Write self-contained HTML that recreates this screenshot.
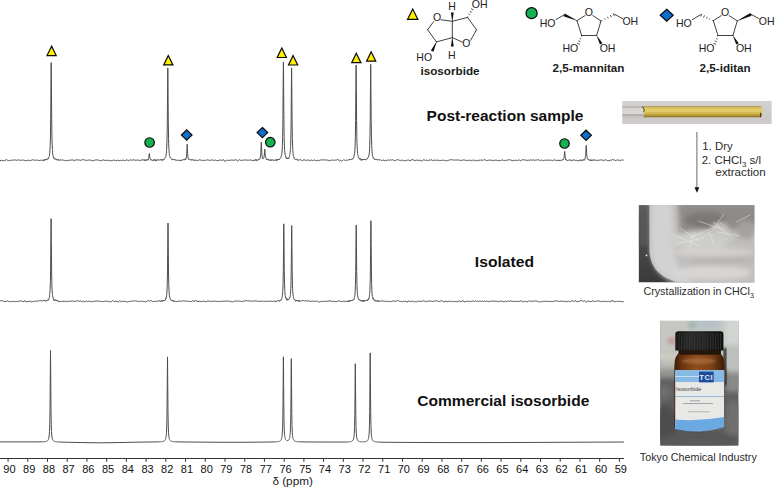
<!DOCTYPE html>
<html><head><meta charset="utf-8">
<style>
html,body{margin:0;padding:0;background:#fff;}
body{width:775px;height:488px;overflow:hidden;position:relative;font-family:"Liberation Sans",sans-serif;}
svg{position:absolute;left:0;top:0;}
text{font-family:"Liberation Sans",sans-serif;}
</style></head><body>
<svg width="775" height="488" viewBox="0 0 775 488">
<g fill="none" stroke="#4d4d4d" stroke-width="1" stroke-linejoin="round">
<path d="M0,159.82 L0.7,160.93 L1.4,160.37 L2.1,160.47 L2.8,160.49 L3.5,160.53 L4.2,160.96 L4.9,160.56 L5.6,160.35 L6.3,159.29 L7,160.02 L7.7,160.40 L8.4,160.45 L9.1,160.59 L9.8,160.69 L10.5,160.45 L11.2,160.18 L11.9,160.27 L12.6,160.01 L13.3,160.28 L14,160.19 L14.7,159.76 L15.4,160.04 L16.1,160.42 L16.8,160.34 L17.5,159.99 L18.2,159.65 L18.9,160.25 L19.6,160.31 L20.3,160.04 L21,160.51 L21.7,160.37 L22.4,159.98 L23.1,160.03 L23.8,160.16 L24.5,160.25 L25.2,161.05 L25.9,160.21 L26.6,160.62 L27.3,160.84 L28,160.24 L28.7,160.05 L29.4,160.43 L30.1,160.63 L30.8,160.32 L31.5,160.17 L32.2,159.76 L32.9,159.90 L33.6,160.06 L34.3,159.89 L35,160.28 L35.7,160.49 L36.4,160.06 L37.1,160.00 L37.8,160.28 L38.5,160.44 L39.2,160.33 L39.9,160.89 L40.6,160.06 L41.3,160.03 L42,160.57 L42.7,160.22 L43.2,160.28 L43.4,159.98 L43.45,160.66 L43.7,160.37 L43.95,159.73 L44.1,159.69 L44.2,160.58 L44.45,160.20 L44.7,159.86 L44.8,159.94 L44.95,159.48 L45.2,160.06 L45.45,159.82 L45.5,159.98 L45.7,159.36 L45.95,159.61 L46.2,159.85 L46.45,159.99 L46.7,158.99 L46.9,158.97 L46.95,158.99 L47.2,158.80 L47.45,158.94 L47.6,159.21 L47.7,159.26 L47.95,158.90 L48.2,158.14 L48.3,158.69 L48.45,158.37 L48.7,157.74 L48.95,156.91 L49,156.74 L49.2,156.63 L49.45,155.60 L49.7,153.22 L49.95,149.93 L50.2,145.28 L50.4,139.05 L50.45,136.99 L50.7,119.74 L50.95,88.01 L51.1,67.46 L51.2,62.58 L51.45,88.03 L51.7,119.79 L51.8,127.92 L51.95,136.65 L52.2,144.70 L52.45,149.62 L52.5,150.61 L52.7,153.74 L52.95,155.25 L53.2,156.34 L53.45,157.03 L53.7,158.21 L53.9,157.70 L53.95,157.74 L54.2,158.82 L54.45,159.14 L54.6,159.14 L54.7,158.90 L54.95,158.74 L55.2,158.55 L55.3,159.15 L55.45,159.11 L55.7,159.23 L55.95,158.92 L56,159.11 L56.2,159.20 L56.45,159.93 L56.7,159.92 L56.95,159.95 L57.2,159.36 L57.4,159.56 L57.45,159.94 L57.7,160.02 L57.95,159.84 L58.1,160.19 L58.2,160.25 L58.45,159.71 L58.7,159.20 L58.8,159.95 L58.95,160.28 L59.2,160.52 L59.5,160.51 L60.2,159.95 L60.9,159.81 L61.6,160.05 L62.3,160.04 L63,160.10 L63.7,160.24 L64.4,160.70 L65.1,160.45 L65.8,160.26 L66.5,160.49 L67.2,160.49 L67.9,160.55 L68.6,160.34 L69.3,160.03 L70,160.33 L70.7,160.27 L71.4,159.96 L72.1,159.88 L72.8,159.82 L73.5,160.75 L74.2,160.17 L74.9,160.35 L75.6,160.20 L76.3,159.92 L77,159.80 L77.7,159.86 L78.4,160.05 L79.1,159.78 L79.8,160.26 L80.5,160.29 L81.2,160.07 L81.9,160.25 L82.6,159.57 L83.3,159.67 L84,159.53 L84.7,160.17 L85.4,160.39 L86.1,160.20 L86.8,160.08 L87.5,160.39 L88.2,160.20 L88.9,160.15 L89.6,159.82 L90.3,160.31 L91,160.04 L91.7,160.48 L92.4,160.68 L93.1,160.65 L93.8,160.70 L94.5,160.25 L95.2,159.94 L95.9,160.12 L96.6,159.97 L97.3,159.71 L98,160.08 L98.7,160.23 L99.4,160.47 L100.1,160.76 L100.8,160.27 L101.5,160.74 L102.2,160.20 L102.9,160.17 L103.6,159.94 L104.3,160.29 L105,160.53 L105.7,160.27 L106.4,160.45 L107.1,160.38 L107.8,160.30 L108.5,160.34 L109.2,160.41 L109.9,160.57 L110.6,160.55 L111.3,160.98 L112,160.56 L112.7,160.60 L113.4,159.93 L114.1,159.94 L114.8,160.81 L115.5,160.38 L116.2,160.39 L116.9,160.59 L117.6,160.22 L118.3,160.51 L119,160.89 L119.7,160.50 L120.4,160.34 L121.1,160.34 L121.8,160.62 L122.5,160.12 L123.2,160.09 L123.9,160.64 L124.6,160.57 L125.3,160.39 L126,160.35 L126.7,159.76 L127.4,160.17 L128.1,160.64 L128.8,160.60 L129.5,160.20 L130.2,159.57 L130.9,160.17 L131.6,160.21 L132.3,160.11 L133,160.10 L133.7,159.59 L134.4,160.24 L135.1,160.06 L135.8,160.13 L136.5,160.14 L137.2,160.48 L137.9,159.80 L138.6,160.18 L139.3,160.32 L140,160.60 L140.7,160.51 L141.3,160.06 L141.4,159.85 L141.55,159.86 L141.8,159.77 L142.05,159.94 L142.1,160.13 L142.3,159.94 L142.55,160.00 L142.8,160.18 L143.05,159.93 L143.3,159.76 L143.5,160.09 L143.55,160.28 L143.8,159.89 L144.05,159.59 L144.2,160.16 L144.3,160.27 L144.55,160.17 L144.8,159.95 L144.9,160.67 L145.05,160.12 L145.3,159.84 L145.55,160.25 L145.6,159.72 L145.8,159.92 L146.05,160.26 L146.3,160.19 L146.55,160.60 L146.8,160.21 L147,159.54 L147.05,160.04 L147.3,159.43 L147.55,159.69 L147.7,159.47 L147.8,159.79 L148.05,160.25 L148.3,159.47 L148.4,159.00 L148.55,158.95 L148.8,157.71 L149.05,154.88 L149.1,154.59 L149.3,153.57 L149.55,155.13 L149.8,157.03 L150.05,158.53 L150.3,158.78 L150.5,158.90 L150.55,159.46 L150.8,160.15 L151.05,160.33 L151.2,159.93 L151.3,159.63 L151.55,159.80 L151.8,159.87 L151.9,160.13 L152.05,160.03 L152.3,160.24 L152.55,160.32 L152.6,160.64 L152.8,160.73 L153.05,160.46 L153.3,160.58 L153.55,160.47 L153.8,160.01 L154,159.94 L154.05,159.18 L154.3,159.71 L154.55,160.24 L154.7,159.93 L154.8,160.04 L155.05,160.27 L155.3,159.90 L155.4,160.53 L155.55,161.11 L155.8,160.15 L156.05,160.19 L156.1,159.76 L156.3,160.33 L156.55,160.45 L156.8,159.80 L157.05,160.35 L157.3,160.04 L157.5,159.64 L158.2,159.97 L158.9,160.08 L159.6,159.95 L159.8,159.81 L160.05,160.17 L160.3,159.82 L160.55,159.59 L160.8,159.20 L161,159.94 L161.05,160.19 L161.3,159.76 L161.55,159.92 L161.7,159.77 L161.8,159.69 L162.05,159.46 L162.3,159.88 L162.4,159.97 L162.55,160.57 L162.8,159.99 L163.05,159.19 L163.1,159.71 L163.3,159.84 L163.55,159.78 L163.8,159.16 L164.05,159.13 L164.3,159.29 L164.5,158.67 L164.55,158.59 L164.8,158.30 L165.05,158.21 L165.2,157.40 L165.3,157.51 L165.55,157.22 L165.8,156.57 L165.9,156.04 L166.05,155.02 L166.3,153.53 L166.55,150.56 L166.6,149.86 L166.8,145.93 L167.05,137.91 L167.3,122.19 L167.55,92.72 L167.8,67.97 L168,84.76 L168.05,91.99 L168.3,121.94 L168.55,138.38 L168.7,143.99 L168.8,146.67 L169.05,150.54 L169.3,153.46 L169.4,154.57 L169.55,155.72 L169.8,156.42 L170.05,156.70 L170.1,157.11 L170.3,157.85 L170.55,157.68 L170.8,157.89 L171.05,158.31 L171.3,158.58 L171.5,158.65 L171.55,158.84 L171.8,159.05 L172.05,159.48 L172.2,159.01 L172.3,159.17 L172.55,159.05 L172.8,160.09 L172.9,159.51 L173.05,159.36 L173.3,159.75 L173.55,159.62 L173.6,159.49 L173.8,159.63 L174.05,160.00 L174.3,159.90 L174.55,159.52 L174.8,159.47 L175,159.84 L175.05,159.92 L175.3,159.85 L175.55,159.73 L175.7,160.36 L175.8,160.50 L176.4,160.17 L177.1,160.46 L177.8,160.35 L178.5,160.09 L179.2,160.04 L179.45,160.38 L179.7,160.07 L179.9,160.60 L179.95,160.18 L180.2,160.68 L180.45,160.59 L180.6,160.04 L180.7,160.27 L180.95,160.43 L181.2,160.29 L181.3,160.01 L181.45,160.11 L181.7,160.06 L181.95,159.83 L182,160.29 L182.2,160.33 L182.45,160.21 L182.7,159.68 L182.95,159.59 L183.2,159.58 L183.4,159.97 L183.45,160.02 L183.7,159.77 L183.95,159.98 L184.1,159.66 L184.2,159.69 L184.45,160.05 L184.7,159.88 L184.8,159.69 L184.95,158.99 L185.2,158.64 L185.45,159.23 L185.5,159.48 L185.7,159.78 L185.95,158.71 L186.2,157.91 L186.45,156.71 L186.7,153.56 L186.9,150.11 L186.95,148.60 L187.2,144.30 L187.45,148.76 L187.6,151.60 L187.7,153.34 L187.95,156.89 L188.2,158.35 L188.3,158.13 L188.45,158.68 L188.7,159.50 L188.95,159.57 L189,159.49 L189.2,159.58 L189.45,159.44 L189.7,159.52 L189.95,159.22 L190.2,159.35 L190.4,159.61 L190.45,159.52 L190.7,159.50 L190.95,159.83 L191.1,160.36 L191.2,159.90 L191.45,159.92 L191.7,159.60 L191.8,159.96 L191.95,159.95 L192.2,159.90 L192.45,159.60 L192.5,160.01 L192.7,160.23 L192.95,160.13 L193.2,160.30 L193.45,160.17 L193.7,160.17 L193.9,159.99 L193.95,159.61 L194.2,160.21 L194.45,160.25 L194.6,160.23 L194.7,160.10 L194.95,160.60 L195.2,160.53 L195.3,160.25 L196,160.07 L196.7,160.25 L197.4,160.47 L198.1,160.52 L198.8,160.05 L199.5,159.75 L200.2,160.05 L200.9,160.15 L201.6,160.17 L202.3,160.55 L203,160.45 L203.7,160.35 L204.4,160.20 L205.1,160.34 L205.8,160.58 L206.5,159.89 L207.2,159.68 L207.9,160.22 L208.6,160.15 L209.3,160.11 L210,160.11 L210.7,160.58 L211.4,159.90 L212.1,160.23 L212.8,159.90 L213.5,160.19 L214.2,160.40 L214.9,160.29 L215.6,160.06 L216.3,160.51 L217,160.49 L217.7,160.57 L218.4,160.76 L219.1,159.95 L219.8,160.01 L220.5,160.17 L221.2,159.98 L221.9,160.51 L222.6,160.25 L223.3,159.67 L224,160.00 L224.7,161.14 L225.4,161.55 L226.1,160.76 L226.8,160.05 L227.5,160.37 L228.2,160.34 L228.9,160.16 L229.6,160.50 L230.3,160.22 L231,159.98 L231.7,160.05 L232.4,160.16 L233.1,160.40 L233.8,160.18 L234.5,160.29 L235.2,159.72 L235.9,159.42 L236.6,160.48 L237.3,161.03 L238,160.53 L238.7,160.11 L239.4,159.84 L240.1,159.91 L240.8,160.49 L241.5,160.48 L242.2,159.99 L242.9,160.45 L243.6,160.01 L244.3,160.21 L245,159.98 L245.7,159.93 L246.4,159.91 L247.1,160.01 L247.8,160.48 L248.5,160.22 L249.2,160.19 L249.9,160.05 L250.6,159.84 L251.3,160.27 L252,160.51 L252.7,160.51 L253.3,160.30 L253.4,160.04 L253.55,160.32 L253.8,159.86 L254.05,160.03 L254.1,160.33 L254.3,160.60 L254.55,160.14 L254.8,160.05 L255.05,160.59 L255.3,159.78 L255.5,159.52 L255.55,159.89 L255.8,159.79 L256.05,159.24 L256.2,159.62 L256.3,160.31 L256.55,160.17 L256.8,160.13 L256.9,160.28 L257.05,160.75 L257.3,159.99 L257.55,160.13 L257.6,159.99 L257.8,159.93 L258.05,159.67 L258.3,159.95 L258.55,160.03 L258.8,159.50 L259,159.16 L259.05,159.50 L259.3,159.00 L259.55,159.07 L259.7,159.07 L259.8,158.48 L260.05,158.44 L260.3,157.25 L260.4,157.02 L260.55,155.86 L260.8,153.17 L261.05,147.23 L261.1,145.30 L261.3,142.15 L261.55,146.92 L261.8,152.77 L262.05,155.72 L262.3,157.75 L262.5,158.39 L262.55,158.23 L262.8,158.79 L263.05,158.93 L263.2,158.76 L263.3,158.73 L263.55,158.46 L263.8,157.48 L263.9,157.26 L264.05,156.69 L264.3,155.21 L264.55,151.92 L264.6,151.32 L264.8,149.12 L265.05,152.45 L265.3,155.66 L265.55,157.06 L265.8,157.75 L266,158.49 L266.05,159.11 L266.3,159.23 L266.55,159.64 L266.7,159.38 L266.8,159.55 L267.05,159.29 L267.3,158.87 L267.4,159.21 L267.55,159.05 L267.8,159.71 L268.05,159.94 L268.1,159.43 L268.3,159.37 L268.55,160.04 L268.8,160.11 L269.05,160.48 L269.3,160.13 L269.5,159.77 L269.55,160.04 L269.8,160.32 L270.05,160.51 L270.2,159.98 L270.3,159.74 L270.55,159.80 L270.8,160.02 L270.9,160.32 L271.05,159.59 L271.3,159.97 L271.55,160.06 L271.6,159.98 L271.8,160.69 L272.05,160.23 L272.3,160.07 L272.55,159.85 L272.8,159.56 L273,159.92 L273.7,160.58 L274.4,160.20 L275.1,159.90 L275.4,159.95 L275.65,160.42 L275.8,160.47 L275.9,159.81 L276.15,159.72 L276.4,159.94 L276.5,160.26 L276.65,159.57 L276.9,160.60 L277.15,159.92 L277.2,159.12 L277.4,159.60 L277.65,159.68 L277.9,159.88 L278.15,159.29 L278.4,159.79 L278.6,159.43 L278.65,159.42 L278.9,159.58 L279.15,159.10 L279.3,159.58 L279.4,159.40 L279.65,159.02 L279.9,158.86 L280,158.49 L280.15,158.23 L280.4,158.32 L280.65,158.12 L280.7,158.04 L280.9,157.53 L281.15,156.60 L281.4,155.95 L281.65,154.64 L281.9,153.00 L282.1,151.00 L282.15,149.96 L282.4,145.59 L282.65,136.53 L282.8,127.28 L282.9,119.57 L283.15,87.52 L283.4,62.08 L283.5,67.19 L283.6,80.27 L283.65,87.55 L283.85,114.34 L283.9,119.15 L284.1,133.39 L284.15,136.24 L284.2,138.48 L284.35,143.86 L284.4,145.34 L284.6,149.60 L284.65,150.58 L284.85,152.29 L284.9,152.21 L285.1,154.01 L285.15,154.56 L285.35,155.05 L285.4,155.77 L285.6,156.68 L285.65,157.00 L285.85,157.39 L285.9,157.09 L286.1,156.83 L286.15,157.50 L286.3,158.07 L286.35,158.02 L286.4,158.02 L286.6,158.52 L286.65,158.04 L286.85,157.88 L286.9,157.97 L287,158.08 L287.1,158.72 L287.15,158.79 L287.35,157.93 L287.4,157.98 L287.6,158.71 L287.65,158.34 L287.7,158.24 L287.85,158.09 L287.9,158.20 L288.1,158.33 L288.15,158.14 L288.35,158.02 L288.4,158.17 L288.6,158.67 L288.65,158.96 L288.85,158.18 L288.9,158.10 L289.1,157.22 L289.15,156.89 L289.35,156.61 L289.4,156.68 L289.6,155.89 L289.65,155.46 L289.8,155.22 L289.85,154.59 L289.9,154.30 L290.1,153.01 L290.15,152.39 L290.35,150.70 L290.4,149.75 L290.5,148.57 L290.6,146.59 L290.65,145.33 L290.85,138.10 L290.9,135.99 L291.1,122.22 L291.15,117.63 L291.2,111.58 L291.35,91.71 L291.4,85.04 L291.6,67.86 L291.85,91.97 L291.9,98.66 L292.1,122.09 L292.35,138.59 L292.6,145.99 L292.85,150.81 L293.1,153.82 L293.3,155.23 L293.35,155.69 L293.6,156.49 L293.85,157.29 L294,156.97 L294.1,157.42 L294.35,158.63 L294.6,159.01 L294.7,158.91 L294.85,159.30 L295.1,159.03 L295.35,159.10 L295.4,159.34 L295.6,159.36 L295.85,159.07 L296.1,158.80 L296.35,158.90 L296.6,159.38 L296.8,159.37 L296.85,159.75 L297.1,159.65 L297.35,159.94 L297.5,159.66 L297.6,160.16 L297.85,160.18 L298.1,159.86 L298.2,159.76 L298.35,160.31 L298.6,160.14 L298.85,159.89 L298.9,159.89 L299.1,160.17 L299.35,159.99 L299.6,159.95 L300.3,159.55 L301,159.87 L301.7,160.60 L302.4,160.88 L303.1,160.16 L303.8,159.74 L304.5,159.96 L305.2,159.90 L305.9,160.36 L306.6,160.59 L307.3,160.04 L308,160.07 L308.7,160.07 L309.4,160.58 L310.1,160.29 L310.8,160.35 L311.5,160.05 L312.2,160.39 L312.9,160.50 L313.6,160.37 L314.3,159.87 L315,160.19 L315.7,160.54 L316.4,160.68 L317.1,160.54 L317.8,159.97 L318.5,160.77 L319.2,160.59 L319.9,160.02 L320.6,159.84 L321.3,160.16 L322,159.96 L322.7,159.89 L323.4,159.88 L324.1,160.05 L324.8,159.71 L325.5,159.96 L326.2,159.82 L326.9,160.42 L327.6,160.10 L328.3,160.67 L329,160.76 L329.7,160.23 L330.4,160.43 L331.1,160.22 L331.8,160.43 L332.5,159.79 L333.2,160.19 L333.9,160.56 L334.6,160.18 L335.3,159.97 L336,160.36 L336.7,159.96 L337.4,159.46 L338.1,159.78 L338.8,160.17 L339.5,160.33 L340.2,160.14 L340.9,160.82 L341.6,161.27 L342.3,160.64 L343,160.41 L343.7,159.64 L344.4,160.02 L345.1,160.48 L345.8,160.48 L346.5,160.03 L347.2,160.29 L347.9,160.23 L348.1,160.03 L348.35,159.92 L348.6,159.88 L348.85,159.78 L349.1,159.35 L349.3,159.35 L349.35,160.09 L349.6,159.12 L349.85,159.49 L350,159.42 L350.1,159.88 L350.35,159.65 L350.6,159.57 L350.7,159.54 L350.85,159.29 L351.1,159.36 L351.35,159.76 L351.4,159.51 L351.6,159.12 L351.85,159.05 L352.1,159.25 L352.35,159.15 L352.6,159.00 L352.8,159.13 L352.85,159.02 L353.1,158.00 L353.35,158.05 L353.5,157.83 L353.6,157.73 L353.85,156.52 L354.1,155.56 L354.2,155.69 L354.35,154.92 L354.6,153.37 L354.85,149.99 L354.9,149.47 L355.1,146.06 L355.35,137.15 L355.6,120.66 L355.85,89.86 L356.1,65.08 L356.3,82.96 L356.35,90.20 L356.6,120.72 L356.85,137.53 L357,143.34 L357.1,145.36 L357.35,150.49 L357.6,153.49 L357.7,154.25 L357.85,154.75 L358.1,155.77 L358.35,156.75 L358.4,156.89 L358.6,157.98 L358.85,158.23 L359.1,158.48 L359.35,158.57 L359.6,158.76 L359.8,159.31 L359.85,158.15 L360.1,159.12 L360.35,159.08 L360.5,158.90 L360.6,158.94 L360.85,159.42 L361.1,160.39 L361.2,159.93 L361.35,159.37 L361.6,159.82 L361.85,160.10 L361.9,160.29 L362.1,159.32 L362.35,159.42 L362.6,159.88 L362.7,159.74 L362.85,159.75 L362.95,160.02 L363.1,159.79 L363.2,159.55 L363.3,159.37 L363.35,159.21 L363.45,159.59 L363.6,159.77 L363.7,159.60 L363.85,159.90 L363.95,160.00 L364,159.39 L364.1,159.67 L364.2,159.57 L364.45,159.48 L364.7,159.85 L364.95,159.40 L365.2,159.35 L365.4,159.47 L365.45,159.42 L365.7,159.79 L365.95,160.13 L366.1,159.63 L366.2,159.54 L366.45,158.97 L366.7,158.99 L366.8,159.19 L366.95,158.89 L367.2,158.28 L367.45,158.11 L367.5,158.31 L367.7,158.18 L367.95,158.05 L368.2,157.56 L368.45,156.78 L368.7,156.11 L368.9,155.23 L368.95,155.41 L369.2,153.94 L369.45,151.15 L369.6,148.17 L369.7,145.36 L369.95,136.93 L370.2,120.91 L370.3,110.47 L370.45,89.29 L370.7,64.30 L370.95,89.80 L371,96.52 L371.2,120.37 L371.45,136.89 L371.7,145.60 L371.95,150.18 L372.2,153.16 L372.4,155.01 L372.45,155.19 L372.7,156.35 L372.95,156.85 L373.1,157.74 L373.2,158.11 L373.45,157.86 L373.7,157.89 L373.8,157.90 L373.95,158.32 L374.2,159.33 L374.45,159.41 L374.5,159.30 L374.7,159.39 L374.95,160.00 L375.2,159.55 L375.45,159.48 L375.7,159.85 L375.9,159.57 L375.95,159.25 L376.2,159.53 L376.45,159.34 L376.6,159.35 L376.7,159.56 L376.95,159.70 L377.2,159.86 L377.3,159.53 L377.45,160.00 L377.7,160.11 L377.95,159.81 L378,160.09 L378.2,159.80 L378.45,159.61 L378.7,159.89 L379.4,159.94 L380.1,159.72 L380.8,159.90 L381.5,160.64 L382.2,160.56 L382.9,159.80 L383.6,160.09 L384.3,160.90 L385,160.75 L385.7,160.34 L386.4,160.48 L387.1,160.12 L387.8,160.12 L388.5,160.14 L389.2,160.52 L389.9,159.98 L390.6,159.63 L391.3,160.26 L392,159.81 L392.7,159.80 L393.4,159.98 L394.1,160.30 L394.8,160.68 L395.5,160.55 L396.2,160.00 L396.9,159.81 L397.6,159.74 L398.3,159.81 L399,159.94 L399.7,160.41 L400.4,160.65 L401.1,160.24 L401.8,160.08 L402.5,160.30 L403.2,160.77 L403.9,160.63 L404.6,160.75 L405.3,160.39 L406,160.60 L406.7,160.37 L407.4,160.17 L408.1,160.11 L408.8,159.90 L409.5,160.67 L410.2,160.97 L410.9,160.02 L411.6,159.67 L412.3,159.70 L413,160.05 L413.7,160.07 L414.4,160.28 L415.1,160.71 L415.8,160.50 L416.5,160.19 L417.2,160.29 L417.9,159.81 L418.6,160.66 L419.3,160.44 L420,159.99 L420.7,160.47 L421.4,160.76 L422.1,160.83 L422.8,160.49 L423.5,159.82 L424.2,160.01 L424.9,160.12 L425.6,160.35 L426.3,160.04 L427,160.25 L427.7,160.59 L428.4,160.47 L429.1,160.16 L429.8,159.90 L430.5,160.18 L431.2,159.99 L431.9,159.66 L432.6,160.47 L433.3,160.65 L434,160.02 L434.7,160.08 L435.4,160.26 L436.1,160.22 L436.8,160.33 L437.5,160.16 L438.2,160.29 L438.9,160.13 L439.6,160.65 L440.3,160.60 L441,160.33 L441.7,160.37 L442.4,160.09 L443.1,160.28 L443.8,160.44 L444.5,160.28 L445.2,160.53 L445.9,160.88 L446.6,160.79 L447.3,160.64 L448,160.47 L448.7,160.22 L449.4,159.94 L450.1,159.92 L450.8,159.59 L451.5,159.77 L452.2,160.14 L452.9,159.69 L453.6,159.82 L454.3,160.32 L455,160.13 L455.7,159.89 L456.4,160.06 L457.1,159.91 L457.8,160.03 L458.5,160.05 L459.2,160.30 L459.9,160.20 L460.6,160.32 L461.3,160.20 L462,160.74 L462.7,160.20 L463.4,159.82 L464.1,160.01 L464.8,160.21 L465.5,160.16 L466.2,160.56 L466.9,160.62 L467.6,160.45 L468.3,160.28 L469,160.04 L469.7,160.42 L470.4,160.13 L471.1,160.76 L471.8,160.63 L472.5,160.26 L473.2,159.95 L473.9,160.53 L474.6,160.96 L475.3,160.29 L476,160.33 L476.7,160.69 L477.4,160.72 L478.1,160.56 L478.8,160.25 L479.5,160.16 L480.2,160.54 L480.9,159.66 L481.6,160.16 L482.3,160.35 L483,160.08 L483.7,160.04 L484.4,159.46 L485.1,159.80 L485.8,160.34 L486.5,160.46 L487.2,160.48 L487.9,160.37 L488.6,160.13 L489.3,160.33 L490,159.82 L490.7,160.20 L491.4,160.26 L492.1,160.12 L492.8,160.90 L493.5,160.66 L494.2,160.15 L494.9,160.23 L495.6,160.25 L496.3,160.19 L497,160.45 L497.7,160.46 L498.4,160.84 L499.1,160.87 L499.8,160.07 L500.5,160.53 L501.2,160.47 L501.9,159.81 L502.6,159.89 L503.3,160.41 L504,160.49 L504.7,160.40 L505.4,160.55 L506.1,160.16 L506.8,160.19 L507.5,160.18 L508.2,159.98 L508.9,159.88 L509.6,159.55 L510.3,159.79 L511,160.65 L511.7,160.19 L512.4,160.67 L513.1,160.76 L513.8,160.20 L514.5,160.47 L515.2,160.35 L515.9,160.01 L516.6,160.48 L517.3,160.58 L518,160.15 L518.7,159.84 L519.4,160.13 L520.1,160.78 L520.8,160.60 L521.5,160.24 L522.2,159.62 L522.9,159.81 L523.6,159.87 L524.3,159.86 L525,160.26 L525.7,160.12 L526.4,160.16 L527.1,160.55 L527.8,160.31 L528.5,160.17 L529.2,160.53 L529.9,160.05 L530.6,159.92 L531.3,159.95 L532,160.45 L532.7,160.20 L533.4,159.76 L534.1,159.98 L534.8,160.46 L535.5,160.16 L536.2,159.82 L536.9,160.18 L537.6,159.99 L538.3,159.45 L539,160.12 L539.7,160.38 L540.4,160.65 L541.1,160.45 L541.8,159.86 L542.5,160.30 L543.2,160.72 L543.9,160.65 L544.6,160.29 L545.3,160.09 L546,160.41 L546.7,160.14 L547.4,160.36 L548.1,160.16 L548.8,160.05 L549.5,160.08 L550.2,160.38 L550.9,160.33 L551.6,160.22 L552.3,160.64 L553,160.27 L553.7,160.03 L554.4,159.91 L555.1,160.23 L555.8,160.32 L556.5,160.29 L556.7,160.50 L556.95,160.35 L557.2,160.13 L557.45,160.22 L557.7,160.59 L557.9,160.58 L557.95,160.89 L558.2,160.19 L558.45,160.35 L558.6,160.29 L558.7,160.59 L558.95,160.32 L559.2,160.05 L559.3,160.00 L559.45,160.55 L559.7,160.08 L559.95,160.28 L560,160.46 L560.2,160.15 L560.45,160.30 L560.7,160.37 L560.95,160.42 L561.2,160.15 L561.4,160.15 L561.45,160.28 L561.7,160.48 L561.95,160.30 L562.1,159.91 L562.2,159.64 L562.45,159.84 L562.7,159.50 L562.8,159.88 L562.95,160.14 L563.2,159.62 L563.45,159.66 L563.5,159.23 L563.7,158.67 L563.95,158.28 L564.2,156.63 L564.45,153.16 L564.7,151.44 L564.9,153.14 L564.95,153.69 L565.2,156.73 L565.45,158.26 L565.6,158.81 L565.7,159.64 L565.95,159.22 L566.2,159.99 L566.3,160.12 L566.45,159.73 L566.7,159.98 L566.95,160.39 L567,160.12 L567.2,160.45 L567.45,160.50 L567.7,160.71 L567.95,160.49 L568.2,160.10 L568.4,160.10 L568.45,160.02 L568.7,159.90 L568.95,160.21 L569.1,160.45 L569.2,160.24 L569.45,159.73 L569.7,160.09 L569.8,160.14 L569.95,160.23 L570.2,160.15 L570.45,160.10 L570.5,160.24 L570.7,160.36 L570.95,160.57 L571.2,160.55 L571.45,160.14 L571.7,159.94 L571.9,159.92 L571.95,160.24 L572.2,160.48 L572.45,160.08 L572.6,160.13 L572.7,160.65 L573.3,160.08 L574,159.92 L574.7,159.78 L575.4,160.60 L576.1,160.69 L576.8,160.23 L577.5,160.82 L578.2,160.68 L578.45,160.71 L578.7,160.77 L578.9,160.93 L578.95,160.39 L579.2,159.92 L579.45,160.01 L579.6,160.09 L579.7,160.22 L579.95,159.76 L580.2,159.89 L580.3,159.96 L580.45,160.61 L580.7,160.28 L580.95,160.51 L581,160.15 L581.2,160.18 L581.45,160.51 L581.7,160.11 L581.95,159.74 L582.2,159.86 L582.4,159.95 L582.45,160.39 L582.7,160.43 L582.95,160.43 L583.1,159.98 L583.2,159.59 L583.45,159.73 L583.7,159.93 L583.8,160.17 L583.95,159.74 L584.2,159.83 L584.45,160.20 L584.5,160.12 L584.7,159.48 L584.95,158.96 L585.2,157.57 L585.45,156.64 L585.7,154.40 L585.9,150.41 L585.95,148.74 L586.2,145.33 L586.45,148.94 L586.6,152.09 L586.7,153.52 L586.95,156.45 L587.2,158.09 L587.3,158.23 L587.45,158.64 L587.7,158.89 L587.95,159.29 L588,158.90 L588.2,159.52 L588.45,159.70 L588.7,160.05 L588.95,159.95 L589.2,159.97 L589.4,159.92 L589.45,159.79 L589.7,160.24 L589.95,160.33 L590.1,159.85 L590.2,160.19 L590.45,160.30 L590.7,159.79 L590.8,160.02 L590.95,160.98 L591.2,160.43 L591.45,159.92 L591.5,159.92 L591.7,160.20 L591.95,159.81 L592.2,160.37 L592.45,160.34 L592.7,160.20 L592.9,160.17 L592.95,159.91 L593.2,159.86 L593.45,160.09 L593.6,159.85 L593.7,160.37 L593.95,160.24 L594.2,159.71 L594.3,160.03 L595,159.94 L595.7,160.34 L596.4,160.38 L597.1,160.30 L597.8,160.24 L598.5,160.36 L599.2,160.24 L599.9,159.98 L600.6,159.84 L601.3,160.11 L602,160.00 L602.7,160.02 L603.4,160.66 L604.1,160.73 L604.8,159.79 L605.5,159.75 L606.2,160.15 L606.9,160.23 L607.6,160.64 L608.3,160.75 L609,160.37 L609.7,160.66 L610.4,160.14 L611.1,160.41 L611.8,160.10 L612.5,159.53 L613.2,159.58 L613.9,160.17 L614.6,160.03 L615.3,160.57 L616,160.51 L616.7,160.11 L617.4,159.86 L618.1,160.33 L618.8,160.14 L619.5,160.30 L620.2,160.68 L620.9,160.31 L621.6,159.83 L622.3,160.18 L623,160.08 L623.7,159.99"/>
<path d="M0,301.43 L0.7,300.84 L1.4,300.62 L2.1,300.59 L2.8,300.79 L3.5,301.38 L4.2,301.55 L4.9,301.63 L5.6,301.67 L6.3,301.53 L7,300.93 L7.7,300.80 L8.4,301.33 L9.1,301.16 L9.8,301.65 L10.5,301.54 L11.2,301.73 L11.9,301.86 L12.6,301.37 L13.3,301.28 L14,301.44 L14.7,301.54 L15.4,301.64 L16.1,301.43 L16.8,301.46 L17.5,301.33 L18.2,301.63 L18.9,301.26 L19.6,301.02 L20.3,300.78 L21,300.85 L21.7,301.19 L22.4,301.60 L23.1,301.90 L23.8,301.31 L24.5,300.72 L25.2,300.83 L25.9,302.01 L26.6,301.71 L27.3,301.50 L28,301.61 L28.7,301.28 L29.4,301.28 L30.1,301.43 L30.8,301.42 L31.5,301.83 L32.2,301.73 L32.9,301.54 L33.6,301.14 L34.3,301.71 L35,301.37 L35.7,301.01 L36.4,301.14 L37.1,301.02 L37.8,301.34 L38.5,301.06 L39.2,300.74 L39.9,300.38 L40.6,300.70 L41.3,300.66 L42,301.03 L42.7,300.97 L43.1,300.55 L43.35,300.69 L43.4,300.54 L43.6,300.60 L43.85,300.17 L44.1,300.19 L44.35,300.98 L44.6,300.42 L44.8,300.67 L44.85,300.78 L45.1,300.88 L45.35,300.75 L45.5,301.22 L45.6,301.21 L45.85,301.08 L46.1,300.66 L46.2,300.38 L46.35,300.39 L46.6,300.51 L46.85,300.84 L46.9,301.11 L47.1,300.45 L47.35,300.26 L47.6,300.00 L47.85,299.59 L48.1,299.82 L48.3,299.87 L48.35,300.28 L48.6,299.21 L48.85,298.79 L49,298.61 L49.1,298.11 L49.35,297.53 L49.6,295.92 L49.7,294.43 L49.85,293.19 L50.1,289.51 L50.35,282.67 L50.4,280.71 L50.6,268.83 L50.85,241.23 L51.1,218.61 L51.35,241.75 L51.6,269.13 L51.8,281.27 L51.85,283.94 L52.1,290.57 L52.35,293.17 L52.5,294.52 L52.6,295.85 L52.85,297.19 L53.1,297.99 L53.2,298.55 L53.35,298.34 L53.6,299.49 L53.85,300.06 L53.9,300.46 L54.1,299.55 L54.35,299.83 L54.6,299.78 L54.85,300.55 L55.1,300.43 L55.3,300.49 L55.35,300.36 L55.6,299.82 L55.85,299.76 L56,300.19 L56.1,300.74 L56.35,300.47 L56.6,300.34 L56.7,300.57 L56.85,300.65 L57.1,300.80 L57.35,301.19 L57.4,300.84 L57.6,300.53 L57.85,301.20 L58.1,301.01 L58.35,300.87 L58.6,301.44 L58.8,301.32 L58.85,301.66 L59.1,301.49 L59.5,301.65 L60.2,301.55 L60.9,301.39 L61.6,301.31 L62.3,301.44 L63,301.87 L63.7,300.89 L64.4,301.28 L65.1,301.64 L65.8,301.49 L66.5,301.25 L67.2,301.57 L67.9,301.48 L68.6,301.39 L69.3,301.17 L70,301.43 L70.7,301.15 L71.4,301.14 L72.1,301.21 L72.8,300.89 L73.5,301.26 L74.2,301.62 L74.9,301.25 L75.6,301.22 L76.3,301.27 L77,301.05 L77.7,300.51 L78.4,301.02 L79.1,301.14 L79.8,301.24 L80.5,300.89 L81.2,301.27 L81.9,301.62 L82.6,301.69 L83.3,301.15 L84,301.12 L84.7,301.78 L85.4,301.58 L86.1,301.06 L86.8,301.01 L87.5,301.66 L88.2,301.45 L88.9,301.09 L89.6,301.43 L90.3,301.50 L91,301.58 L91.7,301.73 L92.4,301.34 L93.1,301.29 L93.8,301.70 L94.5,301.28 L95.2,300.92 L95.9,301.09 L96.6,301.02 L97.3,301.31 L98,300.95 L98.7,301.32 L99.4,300.78 L100.1,301.35 L100.8,301.61 L101.5,301.65 L102.2,301.52 L102.9,301.52 L103.6,301.56 L104.3,301.40 L105,301.05 L105.7,300.99 L106.4,301.26 L107.1,300.99 L107.8,301.59 L108.5,301.76 L109.2,301.68 L109.9,301.28 L110.6,301.83 L111.3,301.75 L112,300.87 L112.7,300.58 L113.4,300.86 L114.1,301.67 L114.8,301.33 L115.5,301.02 L116.2,301.32 L116.9,301.82 L117.6,301.63 L118.3,301.94 L119,301.65 L119.7,300.65 L120.4,301.03 L121.1,301.81 L121.8,301.83 L122.5,301.29 L123.2,301.42 L123.9,301.20 L124.6,301.47 L125.3,301.38 L126,301.30 L126.7,301.73 L127.4,302.05 L128.1,301.85 L128.8,301.61 L129.5,301.41 L130.2,301.33 L130.9,301.28 L131.6,301.20 L132.3,301.44 L133,300.78 L133.7,300.54 L134.4,301.03 L135.1,301.12 L135.8,300.84 L136.5,300.99 L137.2,301.20 L137.9,301.38 L138.6,301.61 L139.3,301.66 L140,301.08 L140.7,300.94 L141.4,301.54 L142.1,301.36 L142.8,301.25 L143.5,301.45 L144.2,301.58 L144.9,301.59 L145.6,301.93 L146.3,301.45 L147,301.23 L147.7,300.56 L148.4,300.86 L149.1,301.32 L149.8,301.18 L150.5,300.62 L151.2,300.63 L151.9,301.10 L152.6,301.38 L153.3,301.73 L154,301.45 L154.7,301.36 L155.4,301.35 L156.1,300.85 L156.8,301.69 L157.5,301.33 L158.2,301.03 L158.9,300.88 L159.6,300.66 L160,301.49 L160.25,301.42 L160.3,301.11 L160.5,301.06 L160.75,301.23 L161,301.24 L161.25,300.82 L161.5,301.31 L161.7,301.15 L161.75,300.46 L162,300.26 L162.25,300.60 L162.4,301.18 L162.5,301.28 L162.75,301.27 L163,301.25 L163.1,300.91 L163.25,300.37 L163.5,300.59 L163.75,300.90 L163.8,300.98 L164,300.87 L164.25,300.26 L164.5,300.84 L164.75,300.29 L165,300.45 L165.2,300.28 L165.25,300.16 L165.5,299.16 L165.75,298.69 L165.9,297.79 L166,298.52 L166.25,297.81 L166.5,295.97 L166.6,295.22 L166.75,294.24 L167,291.10 L167.25,283.66 L167.3,281.78 L167.5,270.71 L167.75,245.27 L168,223.09 L168.25,245.28 L168.5,270.87 L168.7,282.06 L168.75,283.67 L169,290.63 L169.25,294.13 L169.4,295.08 L169.5,295.99 L169.75,297.45 L170,298.33 L170.1,298.35 L170.25,299.04 L170.5,299.13 L170.75,299.00 L170.8,299.55 L171,300.26 L171.25,300.58 L171.5,300.43 L171.75,300.93 L172,301.19 L172.2,301.04 L172.25,300.97 L172.5,300.61 L172.75,301.07 L172.9,300.46 L173,300.95 L173.25,300.84 L173.5,300.68 L173.6,300.77 L173.75,300.77 L174,301.40 L174.25,301.80 L174.3,301.34 L174.5,301.62 L174.75,301.29 L175,300.83 L175.25,301.13 L175.5,301.39 L175.7,301.54 L175.75,301.30 L176,301.32 L176.4,301.65 L177.1,301.27 L177.8,301.51 L178.5,301.25 L179.2,301.29 L179.9,300.91 L180.6,300.92 L181.3,301.21 L182,301.27 L182.7,301.05 L183.4,300.74 L184.1,300.84 L184.8,301.14 L185.5,301.07 L186.2,300.88 L186.9,301.66 L187.6,301.29 L188.3,301.45 L189,300.96 L189.7,301.36 L190.4,301.43 L191.1,301.64 L191.8,301.31 L192.5,300.93 L193.2,300.80 L193.9,301.61 L194.6,301.25 L195.3,300.02 L196,300.73 L196.7,301.19 L197.4,301.30 L198.1,301.98 L198.8,300.95 L199.5,301.23 L200.2,301.65 L200.9,301.06 L201.6,301.48 L202.3,301.62 L203,301.16 L203.7,301.16 L204.4,301.41 L205.1,301.43 L205.8,301.81 L206.5,301.77 L207.2,301.01 L207.9,300.78 L208.6,301.04 L209.3,301.17 L210,301.40 L210.7,301.42 L211.4,301.47 L212.1,300.84 L212.8,301.32 L213.5,301.20 L214.2,301.35 L214.9,301.60 L215.6,300.80 L216.3,301.33 L217,301.55 L217.7,301.36 L218.4,301.56 L219.1,301.40 L219.8,301.55 L220.5,301.17 L221.2,301.32 L221.9,301.65 L222.6,301.04 L223.3,301.23 L224,301.60 L224.7,301.22 L225.4,301.00 L226.1,300.73 L226.8,301.37 L227.5,301.08 L228.2,301.22 L228.9,301.11 L229.6,301.33 L230.3,301.29 L231,301.21 L231.7,301.77 L232.4,302.03 L233.1,301.46 L233.8,301.42 L234.5,301.24 L235.2,301.09 L235.9,301.22 L236.6,300.92 L237.3,301.20 L238,301.19 L238.7,300.97 L239.4,301.04 L240.1,301.25 L240.8,301.29 L241.5,301.54 L242.2,301.51 L242.9,301.22 L243.6,301.03 L244.3,301.29 L245,300.90 L245.7,300.45 L246.4,300.45 L247.1,301.04 L247.8,300.89 L248.5,300.94 L249.2,300.91 L249.9,300.91 L250.6,300.98 L251.3,300.95 L252,301.16 L252.7,301.30 L253.4,301.16 L254.1,300.99 L254.8,300.80 L255.5,301.00 L256.2,300.89 L256.9,300.81 L257.6,301.46 L258.3,301.35 L259,301.08 L259.7,301.26 L260.4,301.49 L261.1,301.00 L261.8,301.26 L262.5,301.42 L263.2,300.78 L263.9,301.50 L264.6,301.36 L265.3,301.42 L266,301.19 L266.7,301.08 L267.4,301.43 L268.1,301.30 L268.8,301.31 L269.5,301.44 L270.2,300.87 L270.9,301.06 L271.6,301.29 L272.3,301.40 L273,301.28 L273.7,301.13 L274.4,301.15 L275.1,300.88 L275.8,301.90 L276.05,301.89 L276.3,301.36 L276.5,301.60 L276.55,301.18 L276.8,301.14 L277.05,300.78 L277.2,300.68 L277.3,300.42 L277.55,300.44 L277.8,300.38 L277.9,300.53 L278.05,300.43 L278.3,300.61 L278.55,301.00 L278.6,301.27 L278.8,301.15 L279.05,300.75 L279.3,301.30 L279.55,300.67 L279.8,300.60 L280,300.15 L280.05,300.26 L280.3,300.41 L280.55,300.23 L280.7,300.61 L280.8,299.86 L281.05,299.53 L281.3,299.73 L281.4,298.94 L281.55,298.76 L281.8,298.23 L282.05,297.71 L282.1,296.96 L282.3,295.79 L282.55,293.99 L282.8,290.73 L283.05,283.76 L283.3,270.50 L283.5,251.41 L283.55,245.27 L283.7,228.53 L283.8,223.84 L283.95,233.25 L284.05,245.29 L284.2,261.52 L284.3,270.63 L284.45,279.92 L284.55,283.78 L284.7,288.54 L284.8,290.27 L284.9,291.75 L284.95,292.79 L285.05,294.01 L285.2,295.45 L285.3,295.90 L285.45,296.75 L285.55,296.56 L285.6,296.99 L285.7,297.76 L285.8,298.26 L285.95,297.67 L286.05,297.93 L286.2,298.52 L286.3,298.80 L286.45,299.06 L286.55,299.21 L286.7,298.75 L286.8,299.31 L286.95,299.98 L287,300.00 L287.05,300.36 L287.2,299.52 L287.3,299.23 L287.45,298.92 L287.55,298.96 L287.7,299.77 L287.8,299.54 L287.95,299.29 L288.05,299.39 L288.2,299.70 L288.3,299.36 L288.4,299.28 L288.45,299.10 L288.55,299.44 L288.7,299.53 L288.8,299.56 L288.95,299.43 L289.05,299.42 L289.1,299.20 L289.2,298.78 L289.3,298.54 L289.45,298.04 L289.55,297.88 L289.7,297.81 L289.8,298.00 L289.95,297.01 L290.05,296.44 L290.2,296.36 L290.3,295.78 L290.45,294.42 L290.5,293.86 L290.55,293.08 L290.7,290.89 L290.8,288.60 L290.95,284.69 L291.05,280.48 L291.2,271.85 L291.3,263.62 L291.45,246.57 L291.55,234.84 L291.7,225.52 L291.8,230.13 L291.9,240.52 L291.95,246.63 L292.2,271.80 L292.45,284.92 L292.6,288.49 L292.7,290.43 L292.95,294.00 L293.2,296.03 L293.3,296.63 L293.45,297.39 L293.7,298.55 L293.95,298.90 L294,298.88 L294.2,299.51 L294.45,299.82 L294.7,299.29 L294.95,299.75 L295.2,300.29 L295.4,300.66 L295.45,301.29 L295.7,301.08 L295.95,300.61 L296.1,300.32 L296.2,301.20 L296.45,300.89 L296.7,300.11 L296.8,300.36 L296.95,300.50 L297.2,300.40 L297.45,300.81 L297.5,300.86 L297.7,300.60 L297.95,300.65 L298.2,301.10 L298.45,300.65 L298.7,301.46 L298.9,301.11 L298.95,300.10 L299.2,300.91 L299.45,300.91 L299.6,301.32 L299.7,301.25 L300.3,301.33 L301,301.21 L301.7,300.81 L302.4,300.47 L303.1,300.64 L303.8,300.63 L304.5,301.12 L305.2,300.70 L305.9,300.81 L306.6,300.74 L307.3,301.25 L308,301.21 L308.7,300.75 L309.4,300.91 L310.1,301.18 L310.8,301.43 L311.5,301.26 L312.2,301.03 L312.9,301.00 L313.6,301.38 L314.3,301.35 L315,301.19 L315.7,301.49 L316.4,301.02 L317.1,301.19 L317.8,301.45 L318.5,302.12 L319.2,301.99 L319.9,301.73 L320.6,301.58 L321.3,301.62 L322,301.21 L322.7,301.21 L323.4,301.47 L324.1,301.83 L324.8,300.98 L325.5,301.22 L326.2,301.14 L326.9,301.43 L327.6,301.26 L328.3,301.03 L329,301.08 L329.7,300.95 L330.4,301.12 L331.1,300.77 L331.8,301.76 L332.5,301.49 L333.2,301.00 L333.9,301.30 L334.6,301.53 L335.3,301.76 L336,301.12 L336.7,301.73 L337.4,301.20 L338.1,301.09 L338.8,300.86 L339.5,300.77 L340.2,301.41 L340.9,301.55 L341.6,301.50 L342.3,301.73 L343,301.10 L343.7,301.26 L344.4,301.25 L345.1,301.53 L345.8,301.29 L346.5,301.35 L347.2,301.27 L347.9,301.39 L348.2,300.89 L348.45,301.39 L348.6,301.88 L348.7,301.06 L348.95,301.16 L349.2,301.16 L349.3,300.30 L349.45,300.95 L349.7,301.46 L349.95,301.23 L350,300.90 L350.2,300.91 L350.45,300.47 L350.7,300.52 L350.95,301.02 L351.2,300.79 L351.4,300.58 L351.45,300.86 L351.7,300.80 L351.95,300.33 L352.1,300.45 L352.2,300.97 L352.45,300.72 L352.7,300.47 L352.8,300.35 L352.95,300.28 L353.2,299.64 L353.45,299.98 L353.5,300.03 L353.7,299.53 L353.95,299.70 L354.2,298.78 L354.45,297.45 L354.7,296.65 L354.9,294.97 L354.95,293.89 L355.2,290.56 L355.45,284.36 L355.6,277.84 L355.7,271.77 L355.95,246.56 L356.2,225.12 L356.3,228.91 L356.45,246.28 L356.7,271.66 L356.95,284.45 L357,286.12 L357.2,291.24 L357.45,294.43 L357.7,295.86 L357.95,297.83 L358.2,298.51 L358.4,298.41 L358.45,298.42 L358.7,299.44 L358.95,299.27 L359.1,299.70 L359.2,299.35 L359.45,299.82 L359.7,300.23 L359.8,300.02 L359.95,300.17 L360.2,300.50 L360.45,299.92 L360.5,300.42 L360.7,300.27 L360.95,300.83 L361.2,301.37 L361.45,301.20 L361.7,300.81 L361.9,300.44 L361.95,300.17 L362.2,300.67 L362.45,300.98 L362.6,301.23 L362.7,300.90 L362.9,300.89 L362.95,301.42 L363.15,300.50 L363.2,300.24 L363.3,300.11 L363.4,300.97 L363.45,300.89 L363.65,300.92 L363.7,301.31 L363.9,301.26 L363.95,301.17 L364,300.71 L364.15,300.57 L364.2,300.40 L364.4,300.95 L364.65,301.24 L364.7,300.73 L364.9,300.60 L365.15,300.45 L365.4,300.34 L365.65,300.75 L365.9,300.52 L366.1,300.88 L366.15,300.59 L366.4,300.34 L366.65,300.46 L366.8,300.47 L366.9,300.87 L367.15,300.59 L367.4,300.25 L367.5,300.54 L367.65,300.20 L367.9,299.08 L368.15,299.36 L368.2,299.81 L368.4,299.51 L368.65,298.59 L368.9,298.96 L369.15,297.51 L369.4,295.78 L369.6,294.41 L369.65,293.74 L369.9,290.47 L370.15,283.53 L370.3,276.50 L370.4,269.86 L370.65,243.35 L370.9,220.70 L371,225.19 L371.15,243.46 L371.4,270.11 L371.65,283.62 L371.7,285.42 L371.9,290.83 L372.15,294.63 L372.4,296.50 L372.65,297.36 L372.9,298.43 L373.1,298.72 L373.15,297.89 L373.4,298.77 L373.65,299.68 L373.8,299.93 L373.9,299.57 L374.15,300.19 L374.4,299.90 L374.5,299.98 L374.65,299.99 L374.9,300.60 L375.15,300.50 L375.2,301.15 L375.4,300.80 L375.65,300.38 L375.9,300.65 L376.15,301.35 L376.4,300.78 L376.6,300.75 L376.65,300.98 L376.9,301.23 L377.15,301.18 L377.3,301.15 L377.4,300.74 L377.65,300.77 L377.9,300.66 L378,300.88 L378.15,301.44 L378.4,301.01 L378.65,300.51 L378.7,301.31 L378.9,301.17 L379.4,301.45 L380.1,301.51 L380.8,301.14 L381.5,300.87 L382.2,300.91 L382.9,300.99 L383.6,301.04 L384.3,301.67 L385,301.11 L385.7,301.12 L386.4,301.33 L387.1,301.37 L387.8,301.50 L388.5,301.05 L389.2,301.57 L389.9,301.83 L390.6,301.46 L391.3,301.51 L392,301.28 L392.7,300.86 L393.4,301.26 L394.1,301.15 L394.8,300.70 L395.5,301.60 L396.2,301.23 L396.9,300.84 L397.6,300.63 L398.3,300.57 L399,301.35 L399.7,301.20 L400.4,301.36 L401.1,301.54 L401.8,301.70 L402.5,301.83 L403.2,301.28 L403.9,301.15 L404.6,301.57 L405.3,301.21 L406,301.53 L406.7,301.88 L407.4,302.17 L408.1,301.12 L408.8,301.06 L409.5,301.42 L410.2,301.58 L410.9,301.75 L411.6,301.27 L412.3,301.29 L413,301.16 L413.7,301.35 L414.4,301.88 L415.1,301.90 L415.8,301.43 L416.5,301.83 L417.2,301.31 L417.9,301.12 L418.6,301.64 L419.3,301.21 L420,301.24 L420.7,301.21 L421.4,301.50 L422.1,301.35 L422.8,301.07 L423.5,300.67 L424.2,300.94 L424.9,301.21 L425.6,301.68 L426.3,301.35 L427,301.52 L427.7,301.37 L428.4,301.17 L429.1,300.95 L429.8,301.05 L430.5,301.22 L431.2,301.23 L431.9,300.95 L432.6,301.50 L433.3,301.27 L434,300.89 L434.7,301.23 L435.4,301.00 L436.1,300.84 L436.8,300.55 L437.5,300.93 L438.2,301.76 L438.9,301.41 L439.6,301.17 L440.3,301.01 L441,301.01 L441.7,300.62 L442.4,300.92 L443.1,301.66 L443.8,301.74 L444.5,301.91 L445.2,300.93 L445.9,301.26 L446.6,301.49 L447.3,301.88 L448,301.56 L448.7,301.26 L449.4,301.47 L450.1,301.55 L450.8,301.44 L451.5,300.81 L452.2,301.50 L452.9,301.90 L453.6,301.65 L454.3,301.52 L455,301.44 L455.7,301.53 L456.4,301.76 L457.1,301.49 L457.8,301.37 L458.5,301.67 L459.2,300.73 L459.9,300.83 L460.6,301.87 L461.3,301.56 L462,300.99 L462.7,300.76 L463.4,300.85 L464.1,301.93 L464.8,301.90 L465.5,301.59 L466.2,301.32 L466.9,301.66 L467.6,301.29 L468.3,301.16 L469,301.21 L469.7,301.73 L470.4,301.40 L471.1,301.37 L471.8,301.41 L472.5,301.00 L473.2,301.27 L473.9,300.96 L474.6,301.34 L475.3,300.75 L476,300.77 L476.7,301.49 L477.4,301.28 L478.1,301.30 L478.8,301.59 L479.5,301.13 L480.2,301.17 L480.9,301.58 L481.6,301.31 L482.3,301.06 L483,301.38 L483.7,301.47 L484.4,300.93 L485.1,301.52 L485.8,301.22 L486.5,300.90 L487.2,301.13 L487.9,301.89 L488.6,301.57 L489.3,301.41 L490,301.36 L490.7,301.10 L491.4,301.10 L492.1,301.22 L492.8,301.16 L493.5,300.89 L494.2,300.98 L494.9,301.69 L495.6,300.78 L496.3,301.29 L497,301.21 L497.7,301.81 L498.4,301.67 L499.1,301.67 L499.8,300.99 L500.5,300.95 L501.2,301.26 L501.9,301.33 L502.6,301.26 L503.3,301.62 L504,301.62 L504.7,301.54 L505.4,301.09 L506.1,301.33 L506.8,301.69 L507.5,301.25 L508.2,301.02 L508.9,300.86 L509.6,301.36 L510.3,301.07 L511,300.63 L511.7,301.29 L512.4,301.41 L513.1,301.20 L513.8,301.43 L514.5,301.37 L515.2,301.52 L515.9,301.53 L516.6,301.10 L517.3,301.44 L518,301.67 L518.7,301.48 L519.4,301.35 L520.1,301.16 L520.8,300.87 L521.5,300.76 L522.2,301.60 L522.9,301.60 L523.6,301.89 L524.3,301.33 L525,301.18 L525.7,301.55 L526.4,301.72 L527.1,301.80 L527.8,301.82 L528.5,301.09 L529.2,300.74 L529.9,301.44 L530.6,300.89 L531.3,301.34 L532,301.74 L532.7,301.19 L533.4,301.02 L534.1,301.17 L534.8,301.27 L535.5,300.83 L536.2,301.26 L536.9,301.10 L537.6,301.14 L538.3,301.70 L539,302.10 L539.7,302.04 L540.4,301.55 L541.1,301.37 L541.8,301.93 L542.5,301.58 L543.2,301.02 L543.9,301.77 L544.6,301.29 L545.3,301.14 L546,301.16 L546.7,301.73 L547.4,301.43 L548.1,301.67 L548.8,301.07 L549.5,301.50 L550.2,301.33 L550.9,301.56 L551.6,301.46 L552.3,301.80 L553,301.32 L553.7,301.13 L554.4,301.19 L555.1,300.80 L555.8,301.06 L556.5,301.03 L557.2,301.00 L557.9,300.75 L558.6,301.44 L559.3,301.49 L560,301.39 L560.7,301.14 L561.4,301.16 L562.1,301.04 L562.8,301.22 L563.5,301.49 L564.2,301.36 L564.9,301.36 L565.6,301.94 L566.3,301.09 L567,301.45 L567.7,301.47 L568.4,301.29 L569.1,301.50 L569.8,301.83 L570.5,301.41 L571.2,300.83 L571.9,300.81 L572.6,300.90 L573.3,301.43 L574,301.36 L574.7,300.90 L575.4,300.77 L576.1,301.28 L576.8,301.76 L577.5,301.91 L578.2,301.10 L578.9,301.68 L579.6,301.22 L580.3,300.77 L581,300.19 L581.7,301.03 L582.4,301.30 L583.1,301.13 L583.8,301.02 L584.5,300.79 L585.2,301.04 L585.9,301.65 L586.6,302.02 L587.3,301.40 L588,301.40 L588.7,300.98 L589.4,301.62 L590.1,301.38 L590.8,301.58 L591.5,301.52 L592.2,300.81 L592.9,301.14 L593.6,301.30 L594.3,301.13 L595,301.53 L595.7,301.52 L596.4,301.39 L597.1,300.68 L597.8,301.01 L598.5,300.99 L599.2,300.91 L599.9,301.29 L600.6,301.48 L601.3,301.81 L602,301.24 L602.7,301.21 L603.4,301.33 L604.1,301.06 L604.8,301.77 L605.5,301.38 L606.2,301.80 L606.9,301.78 L607.6,301.36 L608.3,300.96 L609,301.67 L609.7,301.79 L610.4,301.63 L611.1,300.69 L611.8,300.96 L612.5,300.99 L613.2,300.58 L613.9,301.22 L614.6,302.01 L615.3,301.70 L616,301.59 L616.7,300.82 L617.4,301.60 L618.1,301.34 L618.8,301.48 L619.5,301.48 L620.2,301.34 L620.9,301.39 L621.6,301.62 L622.3,301.80 L623,301.68 L623.7,301.69"/>
<path d="M0,441.89 L1,441.89 L2,441.89 L3,441.89 L4,441.89 L5,441.89 L6,441.89 L7,441.89 L8,441.89 L9,441.89 L10,441.89 L11,441.89 L12,441.89 L13,441.89 L14,441.89 L15,441.89 L16,441.89 L17,441.89 L18,441.89 L19,441.89 L20,441.89 L21,441.89 L22,441.89 L23,441.89 L24,441.89 L25,441.89 L26,441.89 L27,441.89 L28,441.89 L29,441.89 L30,441.89 L31,441.89 L32,441.88 L33,441.88 L34,441.88 L35,441.88 L36,441.87 L37,441.87 L38,441.86 L39,441.85 L40,441.84 L41,441.82 L42,441.79 L42.5,441.77 L42.75,441.76 L43,441.75 L43.25,441.74 L43.5,441.72 L43.75,441.71 L44,441.69 L44.25,441.67 L44.5,441.64 L44.75,441.62 L45,441.58 L45.25,441.55 L45.5,441.51 L45.75,441.46 L46,441.40 L46.25,441.33 L46.5,441.25 L46.75,441.15 L47,441.03 L47.25,440.88 L47.5,440.69 L47.75,440.45 L48,440.13 L48.25,439.71 L48.5,439.12 L48.75,438.28 L49,437.01 L49.25,434.99 L49.5,431.49 L49.75,424.84 L50,410.71 L50.25,380.15 L50.5,350.32 L50.75,380.16 L51,410.72 L51.25,424.86 L51.5,431.51 L51.75,435.01 L52,437.04 L52.25,438.32 L52.5,439.16 L52.75,439.76 L53,440.18 L53.25,440.50 L53.5,440.75 L53.75,440.94 L54,441.10 L54.25,441.22 L54.5,441.33 L54.75,441.41 L55,441.49 L55.25,441.55 L55.5,441.60 L55.75,441.65 L56,441.69 L56.25,441.73 L56.5,441.76 L56.75,441.79 L57,441.82 L57.25,441.84 L57.5,441.86 L57.75,441.88 L58,441.90 L58.25,441.92 L58.5,441.93 L59,441.96 L60,442.01 L61,442.05 L62,442.09 L63,442.12 L64,442.15 L65,442.17 L66,442.20 L67,442.22 L68,442.25 L69,442.27 L70,442.30 L71,442.32 L72,442.35 L73,442.37 L74,442.39 L75,442.42 L76,442.44 L77,442.47 L78,442.49 L79,442.51 L80,442.53 L81,442.56 L82,442.58 L83,442.60 L84,442.62 L85,442.64 L86,442.66 L87,442.67 L88,442.69 L89,442.70 L90,442.72 L91,442.73 L92,442.74 L93,442.76 L94,442.76 L95,442.77 L96,442.78 L97,442.78 L98,442.79 L99,442.79 L100,442.79 L101,442.79 L102,442.79 L103,442.79 L104,442.78 L105,442.77 L106,442.77 L107,442.76 L108,442.75 L109,442.73 L110,442.72 L111,442.71 L112,442.69 L113,442.68 L114,442.66 L115,442.64 L116,442.62 L117,442.60 L118,442.58 L119,442.56 L120,442.54 L121,442.52 L122,442.50 L123,442.48 L124,442.45 L125,442.43 L126,442.41 L127,442.39 L128,442.37 L129,442.34 L130,442.32 L131,442.30 L132,442.28 L133,442.26 L134,442.24 L135,442.22 L136,442.20 L137,442.18 L138,442.16 L139,442.15 L140,442.13 L141,442.11 L142,442.10 L143,442.08 L144,442.07 L145,442.05 L146,442.04 L147,442.03 L148,442.01 L149,442.00 L150,441.99 L151,441.97 L152,441.96 L153,441.95 L154,441.93 L155,441.92 L156,441.90 L157,441.88 L158,441.85 L159,441.82 L159.5,441.79 L159.75,441.78 L160,441.77 L160.25,441.75 L160.5,441.74 L160.75,441.72 L161,441.70 L161.25,441.68 L161.5,441.66 L161.75,441.63 L162,441.60 L162.25,441.56 L162.5,441.52 L162.75,441.47 L163,441.42 L163.25,441.35 L163.5,441.27 L163.75,441.18 L164,441.07 L164.25,440.92 L164.5,440.75 L164.75,440.52 L165,440.23 L165.25,439.83 L165.5,439.28 L165.75,438.50 L166,437.32 L166.25,435.44 L166.5,432.19 L166.75,426.02 L167,412.90 L167.25,384.54 L167.5,356.85 L167.75,384.54 L168,412.90 L168.25,426.02 L168.5,432.19 L168.75,435.44 L169,437.32 L169.25,438.50 L169.5,439.29 L169.75,439.83 L170,440.23 L170.25,440.52 L170.5,440.75 L170.75,440.93 L171,441.07 L171.25,441.18 L171.5,441.28 L171.75,441.35 L172,441.42 L172.25,441.47 L172.5,441.52 L172.75,441.56 L173,441.60 L173.25,441.63 L173.5,441.66 L173.75,441.68 L174,441.70 L174.25,441.72 L174.5,441.74 L174.75,441.76 L175,441.77 L175.25,441.79 L175.5,441.80 L176,441.82 L177,441.85 L178,441.88 L179,441.90 L180,441.92 L181,441.93 L182,441.94 L183,441.96 L184,441.97 L185,441.98 L186,441.99 L187,442.00 L188,442.01 L189,442.02 L190,442.03 L191,442.04 L192,442.04 L193,442.05 L194,442.06 L195,442.07 L196,442.08 L197,442.09 L198,442.10 L199,442.11 L200,442.12 L201,442.13 L202,442.14 L203,442.15 L204,442.15 L205,442.16 L206,442.17 L207,442.18 L208,442.19 L209,442.20 L210,442.21 L211,442.21 L212,442.22 L213,442.23 L214,442.24 L215,442.24 L216,442.25 L217,442.26 L218,442.26 L219,442.27 L220,442.27 L221,442.28 L222,442.28 L223,442.29 L224,442.29 L225,442.29 L226,442.30 L227,442.30 L228,442.30 L229,442.30 L230,442.30 L231,442.30 L232,442.30 L233,442.30 L234,442.30 L235,442.30 L236,442.29 L237,442.29 L238,442.29 L239,442.28 L240,442.28 L241,442.27 L242,442.27 L243,442.26 L244,442.26 L245,442.25 L246,442.25 L247,442.24 L248,442.23 L249,442.22 L250,442.22 L251,442.21 L252,442.20 L253,442.19 L254,442.18 L255,442.17 L256,442.16 L257,442.16 L258,442.15 L259,442.14 L260,442.13 L261,442.12 L262,442.11 L263,442.09 L264,442.08 L265,442.07 L266,442.06 L267,442.05 L268,442.03 L269,442.02 L270,442.00 L271,441.98 L272,441.96 L273,441.94 L274,441.90 L275,441.86 L275.4,441.84 L275.65,441.83 L275.9,441.81 L276,441.81 L276.15,441.80 L276.4,441.78 L276.65,441.76 L276.9,441.74 L277,441.73 L277.15,441.71 L277.4,441.69 L277.65,441.66 L277.9,441.62 L278,441.61 L278.15,441.58 L278.4,441.54 L278.65,441.49 L278.9,441.43 L279,441.40 L279.15,441.36 L279.4,441.28 L279.65,441.18 L279.9,441.06 L280,441.01 L280.15,440.92 L280.4,440.74 L280.65,440.51 L280.9,440.21 L281,440.06 L281.15,439.81 L281.4,439.25 L281.65,438.46 L281.9,437.28 L282,436.63 L282.15,435.39 L282.4,432.14 L282.65,425.97 L282.9,412.85 L283,403.83 L283.15,384.52 L283.3,362.95 L283.4,356.85 L283.55,369.42 L283.65,384.50 L283.8,403.79 L283.9,412.81 L284,419.32 L284.05,421.87 L284.15,425.90 L284.3,430.08 L284.4,432.04 L284.55,434.20 L284.65,435.27 L284.8,436.49 L284.9,437.13 L285,437.65 L285.05,437.88 L285.15,438.29 L285.3,438.78 L285.4,439.04 L285.55,439.38 L285.65,439.56 L285.8,439.79 L285.9,439.92 L286,440.04 L286.05,440.09 L286.15,440.18 L286.3,440.30 L286.4,440.36 L286.55,440.45 L286.65,440.49 L286.8,440.55 L286.9,440.57 L287,440.60 L287.05,440.60 L287.15,440.62 L287.3,440.63 L287.4,440.63 L287.55,440.62 L287.65,440.61 L287.8,440.58 L287.9,440.55 L288,440.52 L288.05,440.50 L288.15,440.46 L288.3,440.38 L288.4,440.31 L288.55,440.20 L288.65,440.11 L288.8,439.95 L288.9,439.82 L289,439.67 L289.05,439.59 L289.15,439.41 L289.3,439.09 L289.4,438.82 L289.55,438.34 L289.65,437.95 L289.8,437.21 L289.9,436.59 L290,435.83 L290.05,435.39 L290.15,434.34 L290.3,432.23 L290.4,430.31 L290.55,426.22 L290.65,422.27 L290.8,413.40 L290.9,404.58 L291,392.72 L291.05,385.69 L291.15,370.93 L291.3,358.63 L291.4,364.60 L291.55,385.71 L291.8,413.45 L292,424.46 L292.05,426.28 L292.3,432.32 L292.55,435.50 L292.8,437.35 L293,438.32 L293.05,438.51 L293.3,439.28 L293.55,439.82 L293.8,440.21 L294,440.46 L294.05,440.51 L294.3,440.73 L294.55,440.91 L294.8,441.05 L295,441.14 L295.05,441.17 L295.3,441.26 L295.55,441.34 L295.8,441.41 L296,441.45 L296.05,441.46 L296.3,441.51 L296.55,441.55 L296.8,441.59 L297,441.62 L297.05,441.62 L297.3,441.65 L297.55,441.68 L297.8,441.70 L298,441.71 L298.05,441.72 L298.3,441.74 L298.55,441.75 L298.8,441.77 L299,441.78 L299.05,441.78 L299.3,441.79 L300,441.82 L301,441.86 L302,441.88 L303,441.90 L304,441.92 L305,441.93 L306,441.94 L307,441.95 L308,441.96 L309,441.96 L310,441.97 L311,441.98 L312,441.98 L313,441.99 L314,441.99 L315,442.00 L316,442.00 L317,442.00 L318,442.01 L319,442.01 L320,442.01 L321,442.02 L322,442.02 L323,442.02 L324,442.03 L325,442.03 L326,442.03 L327,442.04 L328,442.04 L329,442.04 L330,442.04 L331,442.05 L332,442.05 L333,442.05 L334,442.05 L335,442.05 L336,442.05 L337,442.05 L338,442.05 L339,442.05 L340,442.05 L341,442.05 L342,442.04 L343,442.04 L344,442.03 L345,442.02 L346,442.00 L347,441.97 L347.3,441.96 L347.55,441.95 L347.8,441.94 L348,441.93 L348.05,441.93 L348.3,441.91 L348.55,441.90 L348.8,441.88 L349,441.87 L349.05,441.86 L349.3,441.84 L349.55,441.82 L349.8,441.79 L350,441.76 L350.05,441.76 L350.3,441.72 L350.55,441.68 L350.8,441.63 L351,441.58 L351.05,441.57 L351.3,441.49 L351.55,441.41 L351.8,441.30 L352,441.20 L352.05,441.18 L352.3,441.01 L352.55,440.80 L352.8,440.53 L353,440.25 L353.05,440.17 L353.3,439.67 L353.55,438.94 L353.8,437.86 L354,436.54 L354.05,436.12 L354.3,433.13 L354.55,427.44 L354.8,415.36 L355,395.86 L355.05,389.23 L355.3,363.72 L355.55,389.23 L355.8,415.36 L356,425.72 L356.05,427.44 L356.3,433.13 L356.55,436.11 L356.8,437.85 L357,438.75 L357.05,438.93 L357.3,439.65 L357.55,440.16 L357.8,440.52 L358,440.74 L358.05,440.79 L358.3,440.99 L358.55,441.16 L358.8,441.28 L359,441.37 L359.05,441.38 L359.3,441.47 L359.55,441.53 L359.8,441.59 L360,441.63 L360.05,441.64 L360.3,441.68 L360.55,441.71 L360.8,441.74 L361,441.75 L361.05,441.76 L361.3,441.78 L361.55,441.79 L361.8,441.80 L362,441.81 L362.05,441.81 L362.2,441.81 L362.3,441.82 L362.45,441.82 L362.55,441.82 L362.7,441.82 L362.8,441.82 L362.95,441.82 L363,441.82 L363.05,441.82 L363.2,441.81 L363.3,441.81 L363.45,441.81 L363.7,441.80 L363.95,441.79 L364,441.78 L364.2,441.77 L364.45,441.75 L364.7,441.72 L364.95,441.69 L365,441.69 L365.2,441.66 L365.45,441.62 L365.7,441.56 L365.95,441.50 L366,441.49 L366.2,441.42 L366.45,441.33 L366.7,441.22 L366.95,441.07 L367,441.04 L367.2,440.89 L367.45,440.66 L367.7,440.35 L367.95,439.94 L368,439.84 L368.2,439.37 L368.45,438.55 L368.7,437.32 L368.95,435.35 L369,434.81 L369.2,431.94 L369.45,425.47 L369.7,411.71 L369.95,381.95 L370,373.96 L370.2,352.90 L370.45,381.96 L370.7,411.72 L370.95,425.49 L371,427.17 L371.2,431.97 L371.45,435.37 L371.7,437.35 L371.95,438.59 L372,438.78 L372.2,439.42 L372.45,439.99 L372.7,440.41 L372.95,440.72 L373,440.78 L373.2,440.96 L373.45,441.15 L373.7,441.30 L373.95,441.42 L374,441.44 L374.2,441.52 L374.45,441.60 L374.7,441.67 L374.95,441.73 L375,441.75 L375.2,441.79 L375.45,441.83 L375.7,441.87 L375.95,441.90 L376,441.91 L376.2,441.93 L376.45,441.96 L376.7,441.98 L376.95,442.01 L377,442.01 L377.2,442.03 L377.45,442.04 L377.7,442.06 L377.95,442.07 L378,442.08 L378.2,442.09 L379,442.12 L380,442.16 L381,442.19 L382,442.21 L383,442.23 L384,442.24 L385,442.26 L386,442.27 L387,442.28 L388,442.29 L389,442.30 L390,442.31 L391,442.32 L392,442.32 L393,442.33 L394,442.34 L395,442.35 L396,442.35 L397,442.36 L398,442.37 L399,442.37 L400,442.38 L401,442.38 L402,442.39 L403,442.40 L404,442.40 L405,442.41 L406,442.41 L407,442.42 L408,442.42 L409,442.43 L410,442.43 L411,442.44 L412,442.44 L413,442.45 L414,442.45 L415,442.46 L416,442.46 L417,442.47 L418,442.47 L419,442.48 L420,442.48 L421,442.48 L422,442.49 L423,442.49 L424,442.50 L425,442.50 L426,442.50 L427,442.51 L428,442.51 L429,442.52 L430,442.52 L431,442.52 L432,442.53 L433,442.53 L434,442.53 L435,442.54 L436,442.54 L437,442.54 L438,442.55 L439,442.55 L440,442.55 L441,442.56 L442,442.56 L443,442.56 L444,442.56 L445,442.57 L446,442.57 L447,442.57 L448,442.57 L449,442.57 L450,442.58 L451,442.58 L452,442.58 L453,442.58 L454,442.58 L455,442.59 L456,442.59 L457,442.59 L458,442.59 L459,442.59 L460,442.59 L461,442.59 L462,442.59 L463,442.59 L464,442.60 L465,442.60 L466,442.60 L467,442.60 L468,442.60 L469,442.60 L470,442.60 L471,442.60 L472,442.60 L473,442.60 L474,442.60 L475,442.60 L476,442.60 L477,442.60 L478,442.59 L479,442.59 L480,442.59 L481,442.59 L482,442.59 L483,442.59 L484,442.59 L485,442.59 L486,442.59 L487,442.58 L488,442.58 L489,442.58 L490,442.58 L491,442.58 L492,442.57 L493,442.57 L494,442.57 L495,442.57 L496,442.57 L497,442.56 L498,442.56 L499,442.56 L500,442.56 L501,442.55 L502,442.55 L503,442.55 L504,442.54 L505,442.54 L506,442.54 L507,442.53 L508,442.53 L509,442.53 L510,442.52 L511,442.52 L512,442.52 L513,442.51 L514,442.51 L515,442.51 L516,442.50 L517,442.50 L518,442.50 L519,442.49 L520,442.49 L521,442.48 L522,442.48 L523,442.47 L524,442.47 L525,442.47 L526,442.46 L527,442.46 L528,442.45 L529,442.45 L530,442.44 L531,442.44 L532,442.43 L533,442.43 L534,442.43 L535,442.42 L536,442.42 L537,442.41 L538,442.41 L539,442.40 L540,442.40 L541,442.39 L542,442.39 L543,442.38 L544,442.38 L545,442.37 L546,442.37 L547,442.36 L548,442.36 L549,442.35 L550,442.35 L551,442.34 L552,442.34 L553,442.33 L554,442.33 L555,442.32 L556,442.32 L557,442.31 L558,442.31 L559,442.30 L560,442.30 L561,442.29 L562,442.29 L563,442.28 L564,442.28 L565,442.27 L566,442.27 L567,442.26 L568,442.26 L569,442.25 L570,442.25 L571,442.24 L572,442.24 L573,442.23 L574,442.23 L575,442.22 L576,442.22 L577,442.22 L578,442.21 L579,442.21 L580,442.20 L581,442.20 L582,442.19 L583,442.19 L584,442.18 L585,442.18 L586,442.17 L587,442.17 L588,442.17 L589,442.16 L590,442.16 L591,442.15 L592,442.15 L593,442.14 L594,442.14 L595,442.14 L596,442.13 L597,442.13 L598,442.12 L599,442.12 L600,442.12 L601,442.11 L602,442.11 L603,442.10 L604,442.10 L605,442.10 L606,442.09 L607,442.09 L608,442.09 L609,442.08 L610,442.08 L611,442.08 L612,442.07 L613,442.07 L614,442.07 L615,442.06 L616,442.06 L617,442.06 L618,442.05 L619,442.05 L620,442.05 L621,442.04 L622,442.04 L623,442.04 L624,442.03"/>
</g>
<!-- axis -->
<g stroke="#333" stroke-width="1">
<line x1="0" y1="458.5" x2="624" y2="458.5"/>
<line x1="8.07" y1="458.5" x2="8.07" y2="461.8"/>
<line x1="27.79" y1="458.5" x2="27.79" y2="461.8"/>
<line x1="47.51" y1="458.5" x2="47.51" y2="461.8"/>
<line x1="67.23" y1="458.5" x2="67.23" y2="461.8"/>
<line x1="86.95" y1="458.5" x2="86.95" y2="461.8"/>
<line x1="106.67" y1="458.5" x2="106.67" y2="461.8"/>
<line x1="126.39" y1="458.5" x2="126.39" y2="461.8"/>
<line x1="146.11" y1="458.5" x2="146.11" y2="461.8"/>
<line x1="165.83" y1="458.5" x2="165.83" y2="461.8"/>
<line x1="185.55" y1="458.5" x2="185.55" y2="461.8"/>
<line x1="205.27" y1="458.5" x2="205.27" y2="461.8"/>
<line x1="224.99" y1="458.5" x2="224.99" y2="461.8"/>
<line x1="244.71" y1="458.5" x2="244.71" y2="461.8"/>
<line x1="264.43" y1="458.5" x2="264.43" y2="461.8"/>
<line x1="284.15" y1="458.5" x2="284.15" y2="461.8"/>
<line x1="303.87" y1="458.5" x2="303.87" y2="461.8"/>
<line x1="323.59" y1="458.5" x2="323.59" y2="461.8"/>
<line x1="343.31" y1="458.5" x2="343.31" y2="461.8"/>
<line x1="363.03" y1="458.5" x2="363.03" y2="461.8"/>
<line x1="382.75" y1="458.5" x2="382.75" y2="461.8"/>
<line x1="402.47" y1="458.5" x2="402.47" y2="461.8"/>
<line x1="422.19" y1="458.5" x2="422.19" y2="461.8"/>
<line x1="441.91" y1="458.5" x2="441.91" y2="461.8"/>
<line x1="461.63" y1="458.5" x2="461.63" y2="461.8"/>
<line x1="481.35" y1="458.5" x2="481.35" y2="461.8"/>
<line x1="501.07" y1="458.5" x2="501.07" y2="461.8"/>
<line x1="520.79" y1="458.5" x2="520.79" y2="461.8"/>
<line x1="540.51" y1="458.5" x2="540.51" y2="461.8"/>
<line x1="560.23" y1="458.5" x2="560.23" y2="461.8"/>
<line x1="579.95" y1="458.5" x2="579.95" y2="461.8"/>
<line x1="599.67" y1="458.5" x2="599.67" y2="461.8"/>
<line x1="619.39" y1="458.5" x2="619.39" y2="461.8"/>
</g>
<g font-size="11" fill="#111" text-anchor="middle">
<text x="9.47" y="472.7">90</text>
<text x="29.19" y="472.7">89</text>
<text x="48.91" y="472.7">88</text>
<text x="68.63" y="472.7">87</text>
<text x="88.35" y="472.7">86</text>
<text x="108.07" y="472.7">85</text>
<text x="127.79" y="472.7">84</text>
<text x="147.51" y="472.7">83</text>
<text x="167.23" y="472.7">82</text>
<text x="186.95" y="472.7">81</text>
<text x="206.67" y="472.7">80</text>
<text x="226.39" y="472.7">79</text>
<text x="246.11" y="472.7">78</text>
<text x="265.83" y="472.7">77</text>
<text x="285.55" y="472.7">76</text>
<text x="305.27" y="472.7">75</text>
<text x="324.99" y="472.7">74</text>
<text x="344.71" y="472.7">73</text>
<text x="364.43" y="472.7">72</text>
<text x="384.15" y="472.7">71</text>
<text x="403.87" y="472.7">70</text>
<text x="423.59" y="472.7">69</text>
<text x="443.31" y="472.7">68</text>
<text x="463.03" y="472.7">67</text>
<text x="482.75" y="472.7">66</text>
<text x="502.47" y="472.7">65</text>
<text x="522.19" y="472.7">64</text>
<text x="541.91" y="472.7">63</text>
<text x="561.63" y="472.7">62</text>
<text x="581.35" y="472.7">61</text>
<text x="601.07" y="472.7">60</text>
<text x="620.79" y="472.7">59</text>
</g>
<!-- texts -->
<text transform="translate(426.57,121.40) scale(1.0336,1)" x="0" y="0" font-size="15" font-weight="bold" fill="#111">Post-reaction sample</text>
<text transform="translate(474.86,266.70) scale(1.0447,1)" x="0" y="0" font-size="15" font-weight="bold" fill="#111">Isolated</text>
<text transform="translate(417.32,406.20) scale(1.0383,1)" x="0" y="0" font-size="15" font-weight="bold" fill="#111">Commercial isosorbide</text>
<text transform="translate(420.46,74.60) scale(1.1154,1)" x="0" y="0" font-size="10.5" font-weight="bold" fill="#1a1a1a">isosorbide</text>
<text transform="translate(552.62,72.40) scale(1.1109,1)" x="0" y="0" font-size="10.5" font-weight="bold" fill="#1a1a1a">2,5-mannitan</text>
<text transform="translate(699.62,72.20) scale(1.1094,1)" x="0" y="0" font-size="10.5" font-weight="bold" fill="#1a1a1a">2,5-iditan</text>
<text transform="translate(702.35,150.20) scale(1.1379,1)" x="0" y="0" font-size="10" fill="#2a2a2a">1. Dry</text>
<text transform="translate(701.73,164.20) scale(1.1485,1)" x="0" y="0" font-size="10" fill="#2a2a2a">2. CHCl<tspan font-size="7" dy="2.7">3</tspan><tspan dy="-2.7"> s/l</tspan></text>
<text transform="translate(715.22,176.40) scale(1.1645,1)" x="0" y="0" font-size="10" fill="#2a2a2a">extraction</text>
<text transform="translate(643.48,295.40) scale(1.0398,1)" x="0" y="0" font-size="10.3" fill="#2a2a2a">Crystallization in CHCl<tspan font-size="7" dy="2.2">3</tspan></text>
<text transform="translate(639.84,461.00) scale(1.0237,1)" x="0" y="0" font-size="10.5" fill="#2a2a2a">Tokyo Chemical Industry</text>
<text transform="translate(272.39,484.80) scale(1.0234,1)" x="0" y="0" font-size="11.5" fill="#222">δ (ppm)</text>
<path d="M51.60,46.20 L47.00,55.60 L56.20,55.60 Z" fill="#ffee00" stroke="#080808" stroke-width="1.2" stroke-linejoin="miter"/>
<path d="M168.30,55.50 L163.70,64.90 L172.90,64.90 Z" fill="#ffee00" stroke="#080808" stroke-width="1.2" stroke-linejoin="miter"/>
<path d="M281.80,48.10 L277.20,57.50 L286.40,57.50 Z" fill="#ffee00" stroke="#080808" stroke-width="1.2" stroke-linejoin="miter"/>
<path d="M293.10,55.60 L288.50,65.00 L297.70,65.00 Z" fill="#ffee00" stroke="#080808" stroke-width="1.2" stroke-linejoin="miter"/>
<path d="M356.30,53.30 L351.70,62.70 L360.90,62.70 Z" fill="#ffee00" stroke="#080808" stroke-width="1.2" stroke-linejoin="miter"/>
<path d="M371.20,51.80 L366.60,61.20 L375.80,61.20 Z" fill="#ffee00" stroke="#080808" stroke-width="1.2" stroke-linejoin="miter"/>
<path d="M412.70,9.10 L407.55,19.30 L417.85,19.30 Z" fill="#ffee00" stroke="#080808" stroke-width="1.2" stroke-linejoin="miter"/>
<circle cx="149.6" cy="142.5" r="4.75" fill="#15b04f" stroke="#080808" stroke-width="1.2"/>
<circle cx="270.3" cy="142.2" r="4.75" fill="#15b04f" stroke="#080808" stroke-width="1.2"/>
<circle cx="564.5" cy="143.5" r="4.75" fill="#15b04f" stroke="#080808" stroke-width="1.2"/>
<circle cx="531.6" cy="13.15" r="5.55" fill="#15b04f" stroke="#080808" stroke-width="1.2"/>
<path d="M186.70,129.90 L192.00,135.00 L186.70,140.10 L181.40,135.00 Z" fill="#0c6fcb" stroke="#080808" stroke-width="1.2" stroke-linejoin="miter"/>
<path d="M262.40,127.50 L267.70,132.60 L262.40,137.70 L257.10,132.60 Z" fill="#0c6fcb" stroke="#080808" stroke-width="1.2" stroke-linejoin="miter"/>
<path d="M586.10,130.20 L591.40,135.30 L586.10,140.40 L580.80,135.30 Z" fill="#0c6fcb" stroke="#080808" stroke-width="1.2" stroke-linejoin="miter"/>
<path d="M666.70,9.30 L673.20,15.30 L666.70,21.30 L660.20,15.30 Z" fill="#0c6fcb" stroke="#080808" stroke-width="1.2" stroke-linejoin="miter"/>
<line x1="441.00" y1="19.80" x2="452.30" y2="21.30" stroke="#2a2a2a" stroke-width="0.9" stroke-linecap="round"/>
<line x1="433.60" y1="21.60" x2="427.60" y2="29.80" stroke="#2a2a2a" stroke-width="0.9" stroke-linecap="round"/>
<line x1="427.60" y1="29.80" x2="436.50" y2="41.90" stroke="#2a2a2a" stroke-width="0.9" stroke-linecap="round"/>
<line x1="436.50" y1="41.90" x2="452.30" y2="37.60" stroke="#2a2a2a" stroke-width="0.9" stroke-linecap="round"/>
<line x1="452.30" y1="21.30" x2="452.30" y2="37.60" stroke="#2a2a2a" stroke-width="0.9" stroke-linecap="round"/>
<line x1="452.30" y1="21.30" x2="467.50" y2="17.40" stroke="#2a2a2a" stroke-width="0.9" stroke-linecap="round"/>
<line x1="467.50" y1="17.40" x2="476.50" y2="29.80" stroke="#2a2a2a" stroke-width="0.9" stroke-linecap="round"/>
<line x1="476.50" y1="29.80" x2="470.60" y2="40.30" stroke="#2a2a2a" stroke-width="0.9" stroke-linecap="round"/>
<line x1="462.40" y1="42.20" x2="452.30" y2="37.60" stroke="#2a2a2a" stroke-width="0.9" stroke-linecap="round"/>
<path d="M452.45,21.30 L453.70,12.40 L450.90,12.40 L452.15,21.30 Z" fill="#111"/>
<path d="M452.15,37.60 L450.90,46.60 L453.70,46.60 L452.45,37.60 Z" fill="#111"/>
<path d="M436.36,41.84 L430.88,50.59 L433.52,51.81 L436.64,41.96 Z" fill="#111"/>
<line x1="468.28" y1="16.87" x2="467.57" y2="16.46" stroke="#2a2a2a" stroke-width="0.8"/>
<line x1="470.01" y1="14.61" x2="468.68" y2="13.84" stroke="#2a2a2a" stroke-width="0.8"/>
<line x1="471.74" y1="12.34" x2="469.78" y2="11.21" stroke="#2a2a2a" stroke-width="0.8"/>
<line x1="473.47" y1="10.08" x2="470.88" y2="8.59" stroke="#2a2a2a" stroke-width="0.8"/>
<text x="437.20" y="20.80" font-size="10.5" fill="#222" text-anchor="middle">O</text>
<text x="466.30" y="47.40" font-size="10.5" fill="#222" text-anchor="middle">O</text>
<text x="452.10" y="10.30" font-size="10.5" fill="#222" text-anchor="middle">H</text>
<text x="451.80" y="58.70" font-size="10.5" fill="#222" text-anchor="middle">H</text>
<text x="424.20" y="60.80" font-size="10.5" fill="#222" text-anchor="middle">HO</text>
<text x="479.60" y="8.10" font-size="10.5" fill="#222" text-anchor="middle">OH</text>
<line x1="585.00" y1="15.60" x2="577.00" y2="20.70" stroke="#2a2a2a" stroke-width="0.9" stroke-linecap="round"/>
<line x1="592.80" y1="15.60" x2="601.00" y2="20.90" stroke="#2a2a2a" stroke-width="0.9" stroke-linecap="round"/>
<line x1="577.00" y1="20.70" x2="581.70" y2="35.50" stroke="#2a2a2a" stroke-width="0.9" stroke-linecap="round"/>
<line x1="581.70" y1="35.50" x2="596.60" y2="35.50" stroke="#2a2a2a" stroke-width="0.9" stroke-linecap="round"/>
<line x1="596.60" y1="35.50" x2="601.00" y2="20.90" stroke="#2a2a2a" stroke-width="0.9" stroke-linecap="round"/>
<path d="M577.06,20.56 L564.72,13.44 L563.48,16.16 L576.94,20.84 Z" fill="#111"/>
<line x1="602.06" y1="20.82" x2="601.73" y2="20.12" stroke="#2a2a2a" stroke-width="0.8"/>
<line x1="605.16" y1="19.64" x2="604.58" y2="18.43" stroke="#2a2a2a" stroke-width="0.8"/>
<line x1="608.26" y1="18.46" x2="607.44" y2="16.74" stroke="#2a2a2a" stroke-width="0.8"/>
<line x1="611.36" y1="17.28" x2="610.29" y2="15.05" stroke="#2a2a2a" stroke-width="0.8"/>
<line x1="614.46" y1="16.10" x2="613.15" y2="13.37" stroke="#2a2a2a" stroke-width="0.8"/>
<line x1="564.10" y1="14.80" x2="556.00" y2="19.60" stroke="#2a2a2a" stroke-width="0.9" stroke-linecap="round"/>
<line x1="614.70" y1="14.30" x2="622.60" y2="18.60" stroke="#2a2a2a" stroke-width="0.9" stroke-linecap="round"/>
<line x1="581.03" y1="36.11" x2="581.79" y2="36.40" stroke="#2a2a2a" stroke-width="0.8"/>
<line x1="579.72" y1="38.51" x2="581.15" y2="39.06" stroke="#2a2a2a" stroke-width="0.8"/>
<line x1="578.41" y1="40.91" x2="580.52" y2="41.72" stroke="#2a2a2a" stroke-width="0.8"/>
<line x1="577.10" y1="43.31" x2="579.88" y2="44.38" stroke="#2a2a2a" stroke-width="0.8"/>
<path d="M596.47,35.57 L599.93,44.60 L602.47,43.20 L596.73,35.43 Z" fill="#111"/>
<text x="588.90" y="16.40" font-size="10.5" fill="#222" text-anchor="middle">O</text>
<text x="547.60" y="26.60" font-size="10.5" fill="#222" text-anchor="middle">HO</text>
<text x="630.30" y="25.00" font-size="10.5" fill="#222" text-anchor="middle">OH</text>
<text x="570.30" y="52.00" font-size="10.5" fill="#222" text-anchor="middle">HO</text>
<text x="607.50" y="52.00" font-size="10.5" fill="#222" text-anchor="middle">OH</text>
<line x1="721.30" y1="15.60" x2="713.30" y2="20.70" stroke="#2a2a2a" stroke-width="0.9" stroke-linecap="round"/>
<line x1="729.10" y1="15.60" x2="737.30" y2="20.90" stroke="#2a2a2a" stroke-width="0.9" stroke-linecap="round"/>
<line x1="713.30" y1="20.70" x2="718.00" y2="35.50" stroke="#2a2a2a" stroke-width="0.9" stroke-linecap="round"/>
<line x1="718.00" y1="35.50" x2="732.90" y2="35.50" stroke="#2a2a2a" stroke-width="0.9" stroke-linecap="round"/>
<line x1="732.90" y1="35.50" x2="737.30" y2="20.90" stroke="#2a2a2a" stroke-width="0.9" stroke-linecap="round"/>
<line x1="712.62" y1="19.97" x2="712.30" y2="20.67" stroke="#2a2a2a" stroke-width="0.8"/>
<line x1="709.93" y1="18.43" x2="709.38" y2="19.64" stroke="#2a2a2a" stroke-width="0.8"/>
<line x1="707.25" y1="16.89" x2="706.45" y2="18.61" stroke="#2a2a2a" stroke-width="0.8"/>
<line x1="704.56" y1="15.35" x2="703.53" y2="17.59" stroke="#2a2a2a" stroke-width="0.8"/>
<line x1="701.87" y1="13.81" x2="700.61" y2="16.56" stroke="#2a2a2a" stroke-width="0.8"/>
<path d="M737.37,21.04 L751.65,15.65 L750.35,12.95 L737.23,20.76 Z" fill="#111"/>
<line x1="700.40" y1="14.80" x2="692.30" y2="19.60" stroke="#2a2a2a" stroke-width="0.9" stroke-linecap="round"/>
<line x1="751.00" y1="14.30" x2="758.90" y2="18.60" stroke="#2a2a2a" stroke-width="0.9" stroke-linecap="round"/>
<line x1="717.33" y1="36.11" x2="718.09" y2="36.40" stroke="#2a2a2a" stroke-width="0.8"/>
<line x1="716.02" y1="38.51" x2="717.45" y2="39.06" stroke="#2a2a2a" stroke-width="0.8"/>
<line x1="714.71" y1="40.91" x2="716.82" y2="41.72" stroke="#2a2a2a" stroke-width="0.8"/>
<line x1="713.40" y1="43.31" x2="716.18" y2="44.38" stroke="#2a2a2a" stroke-width="0.8"/>
<path d="M732.77,35.57 L736.23,44.60 L738.77,43.20 L733.03,35.43 Z" fill="#111"/>
<text x="725.20" y="16.40" font-size="10.5" fill="#222" text-anchor="middle">O</text>
<text x="683.90" y="26.60" font-size="10.5" fill="#222" text-anchor="middle">HO</text>
<text x="766.60" y="25.00" font-size="10.5" fill="#222" text-anchor="middle">OH</text>
<text x="706.60" y="52.00" font-size="10.5" fill="#222" text-anchor="middle">HO</text>
<text x="743.80" y="52.00" font-size="10.5" fill="#222" text-anchor="middle">OH</text>
<defs>
<linearGradient id="gold" x1="0" y1="0" x2="0" y2="1">
<stop offset="0" stop-color="#9a8040"/>
<stop offset="0.12" stop-color="#d4bc58"/>
<stop offset="0.4" stop-color="#e6d070"/>
<stop offset="0.7" stop-color="#cdb046"/>
<stop offset="0.9" stop-color="#a88a2e"/>
<stop offset="1" stop-color="#806828"/>
</linearGradient>
<linearGradient id="tubebg" x1="0" y1="0" x2="0" y2="1">
<stop offset="0" stop-color="#d3d0ce"/>
<stop offset="1" stop-color="#cbc8c6"/>
</linearGradient>
<linearGradient id="glassV" x1="0" y1="0" x2="0" y2="1">
<stop offset="0" stop-color="#8c8c8c"/>
<stop offset="0.25" stop-color="#9a9a9a"/>
<stop offset="0.5" stop-color="#c4c4c4"/>
<stop offset="0.7" stop-color="#d0d0d0"/>
<stop offset="0.72" stop-color="#b4b4b4"/>
<stop offset="0.8" stop-color="#d6d6d6"/>
<stop offset="1" stop-color="#dedede"/>
</linearGradient>
<linearGradient id="darkL" x1="0" y1="0" x2="0" y2="1">
<stop offset="0" stop-color="#5c5c5c"/>
<stop offset="0.5" stop-color="#4a4a4a"/>
<stop offset="1" stop-color="#3a3a3a"/>
</linearGradient>
<linearGradient id="amber" x1="0" y1="0" x2="1" y2="0">
<stop offset="0" stop-color="#3e1c06"/>
<stop offset="0.15" stop-color="#6a3410"/>
<stop offset="0.45" stop-color="#8e4e1e"/>
<stop offset="0.75" stop-color="#7a4016"/>
<stop offset="1" stop-color="#3a1a06"/>
</linearGradient>
<linearGradient id="bgTop" x1="0" y1="0" x2="0" y2="1">
<stop offset="0" stop-color="#c6c8c4"/>
<stop offset="0.25" stop-color="#bfc0bc"/>
<stop offset="0.4" stop-color="#9a9a98"/>
<stop offset="0.55" stop-color="#6e6e6e"/>
<stop offset="1" stop-color="#565656"/>
</linearGradient>
<linearGradient id="capG" x1="0" y1="0" x2="1" y2="0">
<stop offset="0" stop-color="#0e0e0e"/>
<stop offset="0.3" stop-color="#262626"/>
<stop offset="0.6" stop-color="#1e1e1e"/>
<stop offset="1" stop-color="#0a0a0a"/>
</linearGradient>
<pattern id="ribs" width="2.6" height="20" patternUnits="userSpaceOnUse">
<rect x="0" y="0" width="1.1" height="20" fill="#3a3a3a"/>
</pattern>
<filter id="bl1" x="-10%" y="-10%" width="120%" height="120%"><feGaussianBlur stdDeviation="1.2"/></filter>
<filter id="bl2" x="-20%" y="-20%" width="140%" height="140%"><feGaussianBlur stdDeviation="2.5"/></filter>
<clipPath id="cpTube"><rect x="622.2" y="100.8" width="149.6" height="23.1"/></clipPath>
<clipPath id="cpCry"><rect x="638.6" y="205.1" width="115.8" height="77.4"/></clipPath>
<clipPath id="cpBot"><rect x="660.1" y="320.8" width="78.5" height="125"/></clipPath>
</defs>

<!-- ===== tube photo ===== -->
<g clip-path="url(#cpTube)">
<rect x="622.2" y="100.8" width="149.6" height="23.1" fill="url(#tubebg)"/>
<rect x="622.2" y="106.6" width="22" height="1.2" fill="#a8a6a4"/>
<rect x="622.2" y="107.8" width="22" height="6.6" fill="#d8d6d4"/>
<rect x="622.2" y="114.4" width="22" height="1.3" fill="#9e9c9a"/>
<rect x="622.2" y="115.7" width="22" height="2" fill="#c4c2c0"/>
<path d="M642.2,106.2 L761,106.2 Q763.3,111.6 761,117.2 L643.2,117.2 Q645.6,113.5 643.4,111.2 Q642.6,108.4 642.2,106.2 Z" fill="url(#gold)"/>
<path d="M642.4,106.6 Q645.6,110 643.6,112.2" stroke="#5a4410" stroke-width="1" fill="none"/>
<path d="M760.4,113 Q761.6,115.6 760,117" stroke="#4a3808" stroke-width="1.2" fill="none"/>
</g>

<!-- ===== crystal photo ===== -->
<g clip-path="url(#cpCry)">
<rect x="638.6" y="205.1" width="115.8" height="77.4" fill="url(#darkL)"/>
<g filter="url(#bl1)">
<rect x="639" y="214" width="9" height="32" fill="#5a5a5a" opacity="0.7"/>
</g>
<path d="M649.4,205.1 L754.4,205.1 L754.4,282.5 L679.5,282.5 Q650,276 649.4,250 Z" fill="#c0bebc"/>
<g filter="url(#bl2)">
<path d="M678,203 L759,203 L759,226 Q730,232 705,230 Q688,230 680,236 Z" fill="#8e8c8a"/>
<ellipse cx="705" cy="220" rx="20" ry="8" fill="#7a7876"/>
<ellipse cx="746" cy="230" rx="10" ry="9" fill="#a4a2a0"/>
<path d="M651,203 L672,203 L674,250 Q676,270 694,284 L679,284 Q652,276 651,250 Z" fill="#d2d2d2"/>
<ellipse cx="700" cy="240" rx="30" ry="9" fill="#cdcdcb"/>
<ellipse cx="712" cy="252" rx="42" ry="5" fill="#d2d0ce"/>
<ellipse cx="724" cy="260" rx="32" ry="1.8" fill="#aeacaa"/>
<ellipse cx="712" cy="273" rx="40" ry="7" fill="#d8d6d4"/>
<ellipse cx="720" cy="230" rx="9" ry="7" fill="#c8c6c4"/>
</g>
<g stroke="#f0f0f0" stroke-width="0.6" opacity="0.75" fill="none">
<path d="M672,234 L700,246"/><path d="M688,250 L695,232"/><path d="M690,238 L716,226"/>
<path d="M698,221 L722,229"/><path d="M716,225 L724,214"/><path d="M713,222 L734,240"/>
<path d="M705,236 L722,222"/><path d="M680,228 L700,242"/><path d="M736,222 L750,215"/>
<path d="M676,244 L704,238"/><path d="M718,232 L740,236"/><path d="M708,230 L714,244"/>
</g>
<circle cx="646.5" cy="255.4" r="0.9" fill="#eee"/>
</g>

<!-- ===== bottle photo ===== -->
<g clip-path="url(#cpBot)">
<rect x="660.1" y="320.8" width="78.6" height="125" fill="#5f5f5f"/>
<g filter="url(#bl2)">
<rect x="655" y="315" width="90" height="55" fill="#c6c7c2"/>
<rect x="655" y="352" width="22" height="18" fill="#bdbdb6"/>
<rect x="655" y="355" width="22" height="3" fill="#dedcd4"/>
<rect x="655" y="368" width="22" height="10" fill="#949492"/>
<rect x="725" y="315" width="20" height="30" fill="#d2d6d2"/>
<rect x="726" y="345" width="18" height="30" fill="#bcc0bc"/>
<rect x="726" y="372" width="18" height="20" fill="#8a8a8a"/>
<rect x="690" y="318" width="30" height="12" fill="#b8c0c8"/>
<ellipse cx="672" cy="341" rx="4" ry="2" fill="#c04848"/>
<ellipse cx="692" cy="325" rx="2.5" ry="2" fill="#40a050"/>
<ellipse cx="666" cy="425" rx="12" ry="20" fill="#4e4e4e"/>
<ellipse cx="733" cy="420" rx="8" ry="20" fill="#707070"/>
<ellipse cx="664" cy="392" rx="7" ry="7" fill="#6e6e6e"/>
<ellipse cx="700" cy="440" rx="40" ry="8" fill="#555"/>
<ellipse cx="700" cy="442" rx="36" ry="5" fill="#5a5a5a"/>
</g>
<rect x="723.5" y="348" width="3" height="37" fill="#2a2a2a" filter="url(#bl1)"/>
<!-- amber body -->
<path d="M679,353 L720,353 Q724.6,356 724.6,366 L724.6,428 Q700,436 674.4,428 L674.4,366 Q674.4,356 679,353 Z" fill="url(#amber)"/>
<ellipse cx="699" cy="361" rx="17" ry="3" fill="#b87a48" opacity="0.55" filter="url(#bl1)"/>
<!-- neck ring -->
<rect x="678.5" y="349.8" width="42.5" height="5" rx="1.5" fill="#24160c"/>
<!-- cap -->
<path d="M675.3,334 Q675.3,331.3 678.5,331.3 L720.2,331.3 Q723.4,331.3 723.4,334 L723.4,350.4 L675.3,350.4 Z" fill="url(#capG)"/>
<rect x="676.5" y="333" width="46" height="16.5" fill="url(#ribs)" opacity="0.8"/>
<!-- label -->
<path d="M675.2,370.2 L724.2,370.2 L724.2,428 Q699.5,435 675.2,429.5 Z" fill="#e8e9e6"/>
<rect x="675.2" y="370.2" width="49" height="11.8" fill="#86bae4"/>
<rect x="675.2" y="376.2" width="23.8" height="0.8" fill="#dce8f4"/>
<rect x="699" y="371.6" width="14.7" height="10.8" fill="#1d4c9d"/>
<text x="706.3" y="380.2" font-size="7.5" font-weight="bold" fill="#e8ecf4" text-anchor="middle" letter-spacing="0.6">TCI</text>
<text x="676" y="390.5" font-size="5.5" fill="#444">Isosorbide</text>
<rect x="675.2" y="396.3" width="49" height="0.7" fill="#6aa8d8"/>
<rect x="690" y="400.5" width="10" height="0.7" fill="#888"/>
<rect x="683" y="403" width="30" height="0.7" fill="#888"/>
<rect x="688" y="411.5" width="22" height="0.7" fill="#999"/>
<path d="M675.2,419.6 Q699.5,421.5 724.2,417 L724.2,427.6 Q699.5,435.5 675.2,429.5 Z" fill="#6ca8e2"/>
<path d="M675.2,429.5 Q699.5,435.5 724.2,427.6" stroke="#3a3a3a" stroke-width="1" fill="none" opacity="0.7"/>
</g>

<!-- arrow & notes -->
<line x1="696.9" y1="131.9" x2="696.9" y2="188" stroke="#6a6a6a" stroke-width="1"/>
<path d="M694.5,187.3 L699.3,187.3 L696.9,192.8 Z" fill="#111"/>

</svg>
</body></html>
